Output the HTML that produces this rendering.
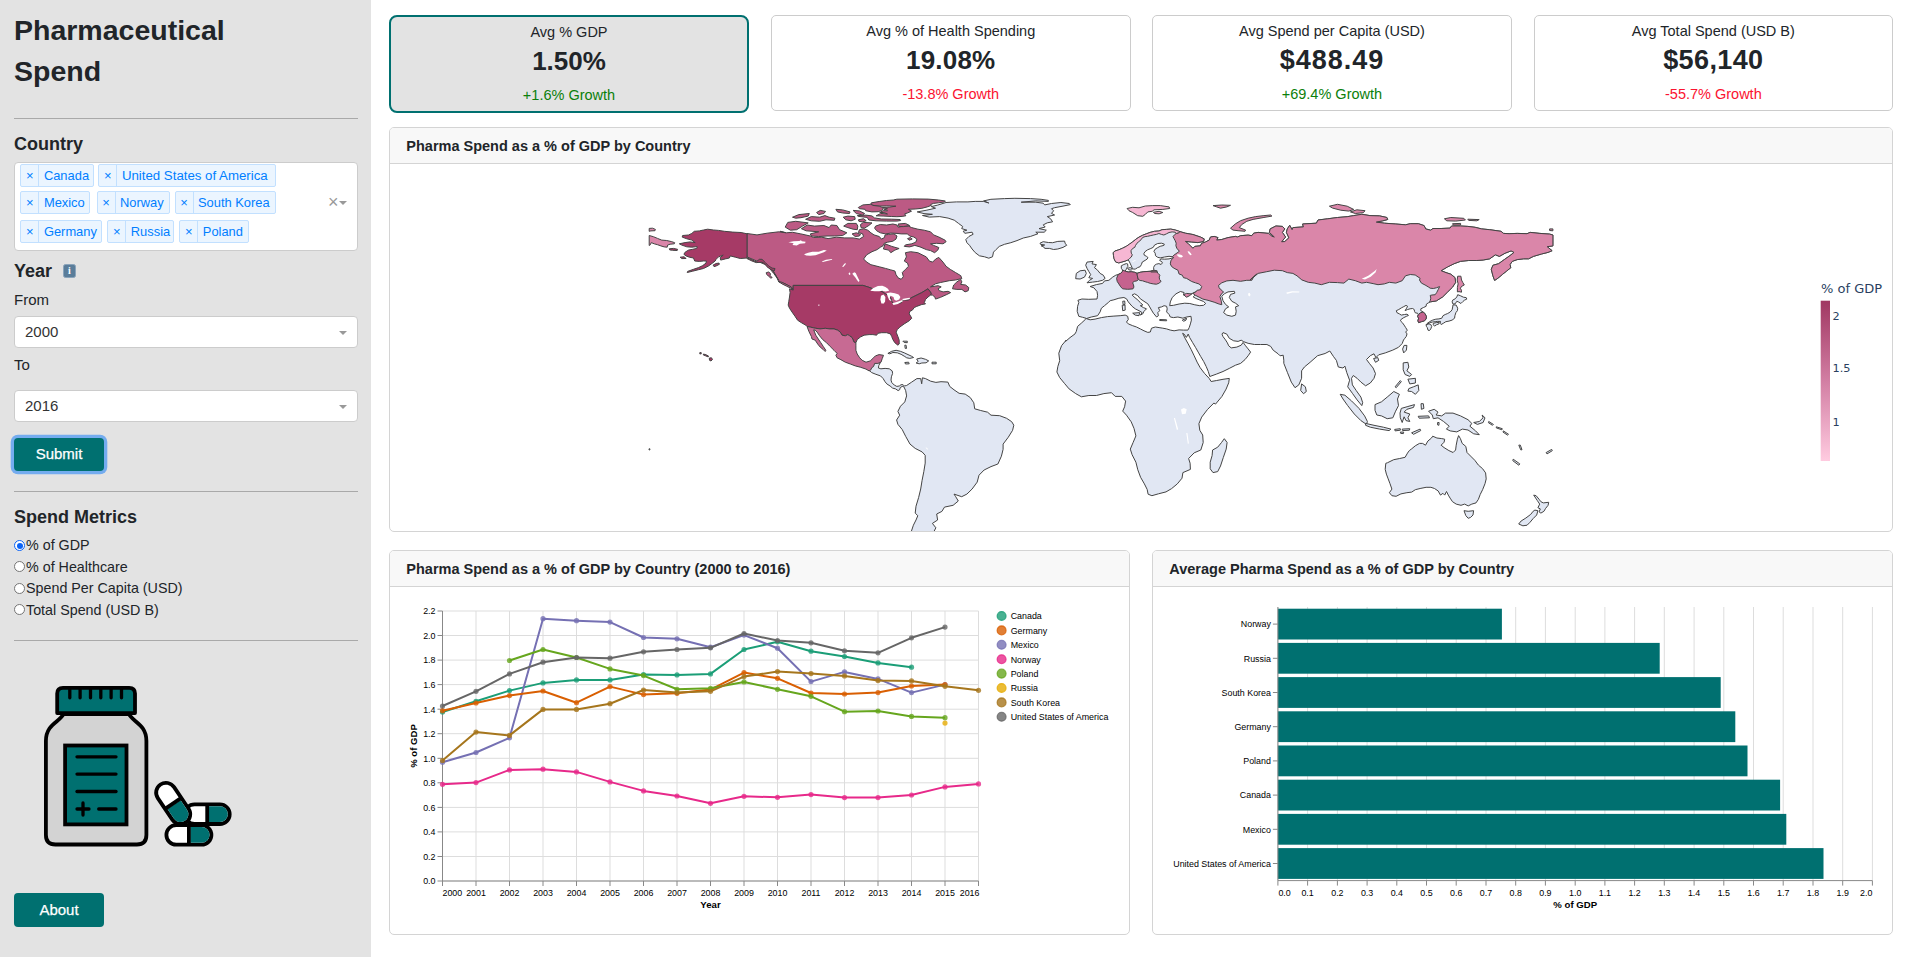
<!DOCTYPE html>
<html lang="en">
<head>
<meta charset="utf-8">
<title>Pharmaceutical Spend</title>
<style>
*{box-sizing:border-box}
html,body{margin:0;padding:0}
body{width:1918px;height:957px;overflow:hidden;background:#fff;font-family:"Liberation Sans",Arial,sans-serif;color:#212529;font-size:16px;position:relative}
.abs{position:absolute}
#sidebar{position:absolute;left:0;top:0;width:371px;height:957px;background:#e3e3e3}
#sidebar .t{position:absolute;left:14px;white-space:nowrap}
.hr{position:absolute;left:14px;width:344px;height:1px;background:#a9a9a9}
h1,h2,h3,h4,h5{margin:0}
.title{font-weight:700;font-size:28.5px;line-height:41px;color:#212529}
.lbl{font-weight:700;font-size:18px;color:#212529}
.box{position:absolute;left:14px;width:344px;background:#fff;border:1px solid #ccc;border-radius:4px}
.tag{position:absolute;height:23px;border:1px solid #c2e0ff;background:#ebf5ff;color:#007eff;border-radius:2px;font-size:12.9px;line-height:21px;white-space:nowrap}
.tag i{position:absolute;left:0;top:0;width:18px;height:21px;border-right:1px solid #c2e0ff;font-style:normal;text-align:center;font-size:13px}
.tag b{position:absolute;left:22.5px;top:0;font-weight:400}
.sel{font-size:15px;color:#333;line-height:29px;padding-left:10px}
.caret{position:absolute;width:0;height:0;border-left:4px solid transparent;border-right:4px solid transparent;border-top:4px solid #999}
.btn{position:absolute;background:#007070;color:#fff;-webkit-text-stroke:0.25px #fff;border-radius:4px;font-size:15px;text-align:center}
.radio{position:absolute;left:14px;width:11px;height:11px;border-radius:50%;border:1px solid #767676;background:#fff}
.radio.on{border:1px solid #0b63f6;background:#fff}
.radio.on::after{content:"";position:absolute;left:1.5px;top:1.5px;width:6px;height:6px;border-radius:50%;background:#0b63f6}
.rl{position:absolute;left:26px;font-size:14.3px;white-space:nowrap;color:#212529}
.kpi{position:absolute;top:15px;width:359.5px;height:96px;border:1px solid #ccc;border-radius:5px;background:#fff;text-align:center}
.kpi.on{width:360px;height:98px;border:2px solid #007070;border-radius:8px;background:#e3e3e3}
.kpi .a{position:absolute;left:0;right:0;top:5.5px;font-size:14.5px;line-height:18px}
.kpi .b{position:absolute;left:0;right:0;top:28px;font-size:26px;line-height:32px;font-weight:700}
.kpi .c{position:absolute;left:0;right:0;top:69px;font-size:14.5px;line-height:18px}
.kpi.on .a{top:5.5px}.kpi.on .b{top:28px}.kpi.on .c{top:69px}
.g{color:#0b800b}.r{color:#fb1330}
.card{position:absolute;border:1px solid #d4d4d4;border-radius:5px;background:#fff;overflow:hidden}
.card .hd{position:absolute;left:0;top:0;right:0;height:36px;background:#f8f8f8;border-bottom:1px solid #d4d4d4;font-weight:700;font-size:14.5px;line-height:37px;padding-left:16.3px;white-space:nowrap}
svg text{font-family:"Liberation Sans",Arial,sans-serif}
</style>
</head>
<body>
<div id="sidebar">
  <div class="t title" style="top:10px">Pharmaceutical<br>Spend</div>
  <div class="hr" style="top:118px"></div>
  <div class="t lbl" style="top:133.5px">Country</div>
  <div class="box" style="top:162px;height:89px">
    <div class="tag" style="left:5.4px;top:0.5px;width:73.4px"><i>×</i><b>Canada</b></div>
    <div class="tag" style="left:83.4px;top:0.5px;width:177.4px"><i>×</i><b style="font-size:13.25px">United States of America</b></div>
    <div class="tag" style="left:5.4px;top:28.3px;width:70.1px"><i>×</i><b>Mexico</b></div>
    <div class="tag" style="left:81.5px;top:28.3px;width:73.3px"><i>×</i><b>Norway</b></div>
    <div class="tag" style="left:159.5px;top:28.3px;width:101.3px"><i>×</i><b>South Korea</b></div>
    <div class="tag" style="left:5.4px;top:57px;width:81.2px"><i>×</i><b>Germany</b></div>
    <div class="tag" style="left:92.3px;top:57px;width:67.2px"><i>×</i><b>Russia</b></div>
    <div class="tag" style="left:164.3px;top:57px;width:69.3px"><i>×</i><b>Poland</b></div>
    <div class="abs" style="left:313px;top:29px;font-size:18px;color:#999;line-height:20px">×</div>
    <div class="caret" style="left:324px;top:38px"></div>
  </div>
  <div class="t lbl" style="top:260.5px">Year</div>
  <div class="abs" style="left:63px;top:263.5px;width:13px;height:14px;border-radius:2.5px;background:#5a7d9a;border:1px solid #8aa4bb;color:#fff;font-size:10px;line-height:12px;text-align:center;font-weight:700;font-family:'Liberation Serif',serif">i</div>
  <div class="t" style="top:291px;font-size:15px">From</div>
  <div class="box sel" style="top:316px;height:32px">2000<div class="caret" style="left:324px;top:14px"></div></div>
  <div class="t" style="top:356px;font-size:15px">To</div>
  <div class="box sel" style="top:390px;height:32px">2016<div class="caret" style="left:324px;top:14px"></div></div>
  <div class="btn" style="left:14px;top:437.5px;width:90px;height:33.5px;line-height:32px;box-shadow:0 0 0 3.3px #74acef">Submit</div>
  <div class="hr" style="top:491px"></div>
  <div class="t lbl" style="top:506.5px">Spend Metrics</div>
  <div class="radio on" style="top:540px"></div><div class="rl" style="top:537px">% of GDP</div>
  <div class="radio" style="top:561px"></div><div class="rl" style="top:559px">% of Healthcare</div>
  <div class="radio" style="top:583px"></div><div class="rl" style="top:580px">Spend Per Capita (USD)</div>
  <div class="radio" style="top:604px"></div><div class="rl" style="top:602px">Total Spend (USD B)</div>
  <div class="hr" style="top:640px"></div>
  <svg id="logo" class="abs" style="left:30px;top:670px" width="220" height="190" viewBox="30 670 220 190"><path d="M63.5,714 C60,722 45.9,724 45.9,741 V835 Q45.9,844.5 55.4,844.5 H136.9 Q146.4,844.5 146.4,835 V741 C146.4,724 132.5,722 129,714 Z" fill="#d3d3d3" stroke="#000" stroke-width="3.8" stroke-linejoin="round"/>
<path d="M57.2,713.1 V693.5 Q57.2,687.8 63,687.8 H129.2 Q135,687.8 135,693.5 V713.1 Z" fill="#007070" stroke="#000" stroke-width="3.8" stroke-linejoin="round"/>
<line x1="69.8" y1="689" x2="69.8" y2="697.8" stroke="#000" stroke-width="3.3" stroke-linecap="round"/>
<line x1="80.1" y1="689" x2="80.1" y2="697.8" stroke="#000" stroke-width="3.3" stroke-linecap="round"/>
<line x1="90.5" y1="689" x2="90.5" y2="697.8" stroke="#000" stroke-width="3.3" stroke-linecap="round"/>
<line x1="100.8" y1="689" x2="100.8" y2="697.8" stroke="#000" stroke-width="3.3" stroke-linecap="round"/>
<line x1="111.1" y1="689" x2="111.1" y2="697.8" stroke="#000" stroke-width="3.3" stroke-linecap="round"/>
<line x1="121.5" y1="689" x2="121.5" y2="697.8" stroke="#000" stroke-width="3.3" stroke-linecap="round"/>
<rect x="65.1" y="745.5" width="61.4" height="78.9" fill="#007070" stroke="#000" stroke-width="3.8"/>
<line x1="77" y1="756.8" x2="116" y2="756.8" stroke="#000" stroke-width="3.3" stroke-linecap="round"/>
<line x1="77" y1="774.1" x2="116" y2="774.1" stroke="#000" stroke-width="3.3" stroke-linecap="round"/>
<line x1="77" y1="791.5" x2="116" y2="791.5" stroke="#000" stroke-width="3.3" stroke-linecap="round"/>
<line x1="77" y1="809" x2="89" y2="809" stroke="#000" stroke-width="3.3" stroke-linecap="round"/>
<line x1="83" y1="803" x2="83" y2="815" stroke="#000" stroke-width="3.3" stroke-linecap="round"/>
<line x1="98.7" y1="809" x2="116" y2="809" stroke="#000" stroke-width="3.3" stroke-linecap="round"/>
<g transform="translate(207.2,814.2) rotate(0.0)"><rect x="-22.5" y="-9.8" width="45.0" height="19.6" rx="9.8" fill="#fff" stroke="#000" stroke-width="3.8"/><path d="M1.5,-7.9 H12.7 A7.9,7.9 0 0 1 12.7,7.9 H1.5 Z" fill="#007070"/><line x1="0" y1="-9.8" x2="0" y2="9.8" stroke="#000" stroke-width="3.8"/></g>
<g transform="translate(188.9,834.9) rotate(0.0)"><rect x="-22.5" y="-9.8" width="45.0" height="19.6" rx="9.8" fill="#fff" stroke="#000" stroke-width="3.8"/><path d="M1.5,-7.9 H12.7 A7.9,7.9 0 0 1 12.7,7.9 H1.5 Z" fill="#007070"/><line x1="0" y1="-9.8" x2="0" y2="9.8" stroke="#000" stroke-width="3.8"/></g>
<g transform="translate(173.2,803.4) rotate(56.1)"><rect x="-22.8" y="-9.8" width="45.6" height="19.6" rx="9.8" fill="#fff" stroke="#000" stroke-width="3.8"/><path d="M1.5,-7.9 H13.0 A7.9,7.9 0 0 1 13.0,7.9 H1.5 Z" fill="#007070"/><line x1="0" y1="-9.8" x2="0" y2="9.8" stroke="#000" stroke-width="3.8"/></g></svg>
  <div class="btn" style="left:14px;top:893px;width:90px;height:34px;line-height:34px">About</div>
</div>

<div class="kpi on" style="left:389px"><div class="a">Avg % GDP</div><div class="b">1.50%</div><div class="c g">+1.6% Growth</div></div>
<div class="kpi" style="left:771px"><div class="a">Avg % of Health Spending</div><div class="b" style="letter-spacing:0.2px">19.08%</div><div class="c r">-13.8% Growth</div></div>
<div class="kpi" style="left:1152.2px"><div class="a">Avg Spend per Capita (USD)</div><div class="b" style="font-size:27px;letter-spacing:1px">$488.49</div><div class="c g">+69.4% Growth</div></div>
<div class="kpi" style="left:1533.6px"><div class="a">Avg Total Spend (USD B)</div><div class="b" style="font-size:27px;letter-spacing:0.4px">$56,140</div><div class="c r">-55.7% Growth</div></div>

<div class="card" style="left:389px;top:127px;width:1504px;height:405px">
  <div class="hd">Pharma Spend as a % of GDP by Country</div>
  <svg id="map" class="abs" style="left:0;top:36px" width="1502" height="367" viewBox="390 164 1502 367"><g>
<path d="M1086.1,318.3 L1082.6,317.3 L1078.8,316.3 L1077.2,311.3 L1077.6,306.3 L1078.8,302.5 L1077.9,300.3 L1081.9,299.0 L1088.8,299.3 L1097.0,299.0 L1097.6,295.3 L1097.0,291.5 L1093.9,287.8 L1090.1,286.5 L1096.4,284.6 L1102.6,283.4 L1104.5,280.9 L1108.9,280.3 L1112.7,277.1 L1115.8,275.2 L1118.2,274.5 L1120.7,273.3 L1122.3,271.7 L1122.6,270.1 L1121.3,268.3 L1121.3,265.8 L1123.8,264.5 L1126.3,263.6 L1127.6,263.9 L1127.9,266.4 L1126.6,268.3 L1126.0,269.8 L1125.1,271.1 L1128.2,272.0 L1131.3,271.7 L1134.8,272.3 L1137.0,273.3 L1140.1,272.3 L1143.9,271.7 L1150.2,271.3 L1153.9,270.3 L1153.6,267.6 L1154.5,265.4 L1156.4,264.2 L1158.9,263.6 L1161.1,264.5 L1162.4,262.9 L1161.8,261.7 L1159.6,260.4 L1160.8,258.9 L1164.6,259.2 L1169.0,258.9 L1173.7,257.6 L1172.4,256.7 L1169.0,256.3 L1164.6,257.0 L1160.2,257.9 L1157.7,257.3 L1155.5,255.7 L1155.2,253.2 L1153.9,251.3 L1155.2,249.1 L1157.7,247.6 L1160.2,246.3 L1163.9,245.4 L1164.3,244.1 L1161.4,243.2 L1157.7,243.5 L1154.5,245.1 L1153.3,247.3 L1150.8,248.5 L1147.6,249.8 L1145.1,251.6 L1143.9,253.5 L1144.2,255.1 L1146.4,256.3 L1148.0,257.6 L1147.0,259.2 L1145.1,260.4 L1142.3,262.0 L1141.4,264.5 L1140.1,266.7 L1137.6,267.6 L1135.7,268.9 L1133.9,269.2 L1132.3,268.3 L1131.3,265.8 L1130.4,263.9 L1129.5,262.0 L1128.2,259.8 L1127.6,260.1 L1125.1,261.1 L1121.9,262.0 L1118.8,262.9 L1115.7,262.0 L1114.1,258.9 L1113.5,255.7 L1113.2,252.6 L1115.0,251.0 L1118.8,249.8 L1122.6,248.2 L1126.3,246.3 L1129.5,244.1 L1132.6,241.9 L1135.7,239.4 L1138.9,237.2 L1142.6,235.3 L1146.4,233.8 L1150.2,232.4 L1154.5,231.3 L1158.9,231.0 L1162.1,229.7 L1166.5,229.4 L1170.8,229.1 L1175.2,230.0 L1178.4,231.0 L1179.9,231.6 L1185.4,233.2 L1192.9,234.5 L1200.4,237.0 L1204.2,238.9 L1203.6,241.4 L1197.9,242.6 L1191.7,242.0 L1185.4,241.4 L1187.9,243.3 L1190.4,245.8 L1192.9,248.3 L1194.8,246.4 L1200.4,245.8 L1201.7,243.3 L1205.5,242.0 L1209.2,240.1 L1210.5,237.0 L1214.2,236.4 L1218.0,237.6 L1216.7,240.1 L1221.8,239.5 L1228.0,237.6 L1235.5,236.4 L1237.4,237.0 L1240.6,235.7 L1248.1,235.1 L1251.8,235.7 L1253.7,233.2 L1258.1,232.4 L1268.6,233.4 L1271.9,236.2 L1274.3,237.0 L1269.4,232.4 L1270.2,228.9 L1275.9,226.0 L1282.4,226.4 L1284.8,228.9 L1282.4,232.4 L1285.6,237.0 L1281.6,241.8 L1284.8,241.5 L1288.9,237.8 L1286.4,232.4 L1287.3,228.9 L1289.7,225.3 L1292.1,229.7 L1292.9,227.6 L1303.4,226.9 L1302.6,224.0 L1316.4,223.2 L1318.0,220.0 L1327.7,218.8 L1337.5,217.5 L1347.2,216.7 L1353.7,215.6 L1361.8,214.3 L1369.9,215.6 L1379.6,215.9 L1386.9,217.5 L1387.7,219.5 L1382.8,220.8 L1376.3,222.1 L1384.4,223.2 L1395.8,224.0 L1405.5,224.8 L1410.3,223.7 L1418.4,223.7 L1424.1,225.6 L1425.7,228.9 L1430.6,230.2 L1433.0,228.5 L1441.1,228.5 L1450.0,228.1 L1451.6,226.0 L1460.6,226.0 L1467.8,226.4 L1475.1,227.3 L1481.6,228.9 L1489.7,229.7 L1501.0,231.3 L1503.5,233.4 L1509.1,233.7 L1517.2,233.4 L1527.0,233.7 L1530.2,232.4 L1539.9,233.4 L1549.6,234.1 L1552.9,235.0 L1552.9,245.9 L1547.2,246.7 L1552.1,250.7 L1548.0,252.4 L1541.5,254.0 L1533.4,256.4 L1528.6,258.8 L1523.7,258.8 L1517.2,259.6 L1512.4,261.3 L1510.0,264.5 L1510.8,267.7 L1506.7,271.0 L1502.7,274.2 L1497.8,278.3 L1494.6,280.4 L1492.9,275.8 L1491.3,269.4 L1492.9,265.3 L1498.6,263.7 L1504.3,259.6 L1510.0,255.6 L1514.0,252.4 L1511.1,250.9 L1505.1,253.2 L1499.4,256.4 L1495.4,254.8 L1489.7,258.8 L1483.2,260.0 L1476.8,260.5 L1468.7,260.5 L1460.6,261.3 L1454.1,263.7 L1447.6,266.9 L1441.1,270.7 L1446.0,272.6 L1450.8,274.2 L1454.9,277.5 L1455.7,282.3 L1452.5,287.2 L1447.6,292.0 L1442.7,296.9 L1436.3,300.9 L1430.6,301.8 L1428.3,302.9 L1426.4,304.1 L1426.1,306.3 L1423.3,307.6 L1420.8,308.8 L1420.8,310.7 L1423.3,312.0 L1425.1,313.9 L1426.4,316.4 L1426.1,318.9 L1424.5,320.8 L1421.4,321.7 L1418.6,322.6 L1417.9,320.8 L1418.6,318.2 L1417.6,316.4 L1418.2,314.5 L1417.6,313.2 L1415.4,312.9 L1414.5,311.3 L1414.2,309.5 L1412.6,308.5 L1410.1,308.8 L1407.6,309.5 L1405.1,310.6 L1406.6,308.2 L1407.6,306.3 L1406.0,305.4 L1403.8,306.6 L1401.3,307.9 L1398.8,309.5 L1396.3,310.7 L1396.9,312.6 L1399.4,313.9 L1401.3,315.1 L1404.5,314.5 L1407.0,314.2 L1408.5,315.4 L1406.3,316.4 L1403.8,317.6 L1401.3,319.2 L1400.4,320.8 L1402.3,322.6 L1404.1,325.1 L1405.7,327.6 L1407.3,330.2 L1405.7,332.0 L1407.0,333.9 L1406.3,336.4 L1404.8,338.3 L1403.5,340.0 L1402.2,343.5 L1398.5,347.3 L1392.8,350.1 L1385.3,352.9 L1378.7,354.8 L1375.9,357.6 L1374.0,353.8 L1370.3,355.7 L1366.5,359.5 L1369.3,363.3 L1373.1,368.0 L1375.5,373.6 L1374.0,378.3 L1370.3,383.0 L1365.6,385.8 L1360.9,382.1 L1357.1,378.3 L1353.3,375.5 L1351.5,378.3 L1352.4,384.9 L1356.2,390.5 L1360.9,397.1 L1362.7,402.7 L1361.8,405.6 L1357.1,399.9 L1352.4,393.3 L1347.7,386.8 L1349.6,380.2 L1346.8,372.7 L1344.9,366.1 L1343.0,368.0 L1338.3,367.0 L1336.4,360.4 L1333.6,356.7 L1329.8,351.0 L1325.1,353.5 L1317.6,355.7 L1310.1,362.3 L1304.4,367.0 L1301.6,370.8 L1301.6,378.3 L1298.8,384.9 L1295.0,387.7 L1291.3,382.1 L1287.5,372.7 L1283.8,363.3 L1283.8,360.2 L1283.2,355.2 L1280.1,355.8 L1278.2,353.9 L1273.2,350.2 L1270.7,346.4 L1266.9,344.5 L1260.6,344.5 L1254.4,344.5 L1248.1,343.3 L1243.7,341.7 L1241.2,340.2 L1238.1,341.4 L1233.7,340.8 L1229.3,338.3 L1226.8,334.1 L1223.0,332.6 L1222.0,334.1 L1223.0,336.6 L1225.5,339.9 L1227.4,342.9 L1228.7,345.8 L1231.2,347.9 L1236.8,347.1 L1241.2,345.2 L1243.1,342.4 L1245.6,345.8 L1248.1,348.9 L1250.6,352.1 L1248.1,355.8 L1245.0,359.6 L1240.6,363.4 L1235.5,365.2 L1229.3,368.4 L1223.0,371.5 L1216.7,374.0 L1209.8,376.5 L1208.3,371.5 L1206.2,366.5 L1203.7,361.5 L1200.7,356.5 L1198.2,352.1 L1195.7,347.7 L1192.7,342.7 L1189.7,337.6 L1188.2,334.1 L1186.4,337.4 L1184.1,334.1 L1182.6,333.3 L1185.4,338.9 L1188.2,343.9 L1191.2,349.6 L1194.2,355.8 L1197.1,362.1 L1200.2,367.7 L1204.5,373.4 L1209.2,378.4 L1211.1,381.5 L1216.7,380.5 L1223.0,379.3 L1229.3,378.4 L1228.7,382.8 L1226.1,389.1 L1221.8,396.6 L1215.5,404.1 L1213.9,403.0 L1207.4,409.6 L1201.7,417.1 L1198.9,423.7 L1199.8,430.3 L1202.7,435.0 L1203.2,442.5 L1200.8,450.0 L1194.2,452.8 L1188.6,458.5 L1190.1,463.2 L1190.4,469.4 L1182.9,472.6 L1182.0,478.2 L1177.3,483.9 L1171.6,488.6 L1166.0,491.9 L1158.5,493.8 L1151.9,495.7 L1148.1,494.2 L1147.2,489.5 L1144.4,483.9 L1140.6,477.3 L1137.8,469.8 L1135.9,462.2 L1132.1,454.7 L1130.3,449.1 L1133.1,442.5 L1135.9,435.9 L1134.0,428.4 L1131.2,421.8 L1126.5,415.2 L1122.7,411.1 L1124.6,406.8 L1125.6,401.1 L1121.8,396.4 L1115.2,396.4 L1111.5,392.7 L1103.9,393.6 L1096.4,395.5 L1088.9,395.5 L1081.4,396.8 L1075.7,393.6 L1069.1,388.9 L1064.4,383.3 L1059.7,377.6 L1056.9,372.0 L1057.9,366.3 L1059.7,360.7 L1058.8,353.2 L1061.6,345.6 L1066.3,340.0 L1065.6,341.4 L1070.0,337.6 L1075.0,333.9 L1076.3,331.4 L1077.6,326.4 L1081.3,323.2 L1085.7,319.1 Z" fill="#e1e7f3" stroke="#444" stroke-width="1.0" stroke-linejoin="round"/>
<path d="M1086.3,318.6 L1091.3,317.0 L1097.6,315.7 L1100.1,311.9 L1101.4,308.2 L1104.5,305.7 L1108.3,302.5 L1110.2,300.7 L1113.9,299.8 L1118.9,298.2 L1123.9,297.5 L1126.5,298.8 L1128.3,301.9 L1132.1,306.3 L1135.2,308.8 L1139.0,310.7 L1142.1,312.6 L1140.3,315.1 L1142.8,313.8 L1144.0,311.3 L1146.5,308.8 L1143.4,307.6 L1140.3,305.7 L1142.8,305.0 L1140.3,302.5 L1137.1,299.4 L1134.0,296.9 L1132.1,295.0 L1134.6,293.8 L1137.7,295.6 L1140.3,298.8 L1144.0,301.3 L1147.8,303.8 L1149.7,306.9 L1151.5,310.1 L1153.4,313.2 L1156.6,317.0 L1158.4,315.7 L1157.8,312.6 L1159.7,310.7 L1158.4,307.6 L1161.6,306.9 L1164.1,305.7 L1166.6,306.3 L1167.2,308.8 L1166.6,311.9 L1169.1,314.5 L1170.3,317.0 L1173.5,317.6 L1177.9,317.0 L1182.9,318.2 L1186.6,317.0 L1191.0,316.3 L1191.4,320.1 L1190.4,323.9 L1189.2,327.6 L1187.9,330.1 L1183.5,330.1 L1179.1,329.9 L1174.1,330.8 L1170.3,330.1 L1166.6,328.9 L1162.8,328.2 L1159.1,327.6 L1155.3,327.0 L1151.5,328.2 L1150.3,332.0 L1147.8,332.4 L1144.0,330.8 L1140.3,328.9 L1136.5,327.0 L1132.7,325.7 L1128.3,323.9 L1126.5,322.0 L1128.3,319.5 L1127.7,316.3 L1125.2,315.1 L1120.2,315.7 L1113.9,316.1 L1107.6,316.6 L1101.4,317.6 L1095.1,319.1 L1090.1,319.8 Z" fill="#ffffff" stroke="#444" stroke-width="1.0" stroke-linejoin="round"/>
<path d="M1169.7,305.7 L1170.3,301.9 L1172.2,297.5 L1176.0,293.8 L1180.4,291.5 L1184.1,292.5 L1183.5,295.0 L1186.6,296.5 L1190.4,294.4 L1194.2,292.5 L1197.9,290.6 L1199.8,291.3 L1197.9,293.1 L1194.8,295.3 L1193.2,296.9 L1196.1,298.5 L1199.8,300.0 L1203.6,301.5 L1205.7,303.5 L1203.6,305.3 L1199.8,305.7 L1194.8,304.8 L1189.8,303.5 L1184.8,303.2 L1179.1,304.0 L1173.5,305.3 Z" fill="#ffffff" stroke="#444" stroke-width="1.0" stroke-linejoin="round"/>
<path d="M1221.8,296.3 L1224.3,293.8 L1228.0,291.9 L1234.3,291.3 L1234.9,293.1 L1230.5,294.4 L1229.3,297.5 L1231.8,301.3 L1235.5,303.2 L1238.7,305.7 L1235.5,306.9 L1236.2,311.3 L1235.5,315.1 L1231.8,316.3 L1226.8,315.1 L1223.6,312.6 L1225.5,308.8 L1228.7,306.9 L1225.5,304.4 L1223.0,300.7 Z" fill="#ffffff" stroke="#444" stroke-width="1.0" stroke-linejoin="round"/>
<path d="M1122.7,301.3 L1124.7,301.0 L1125.0,304.5 L1123.2,304.8 Z" fill="#e1e7f3" stroke="#444" stroke-width="1.0" stroke-linejoin="round"/>
<path d="M1122.2,305.3 L1125.0,305.0 L1125.2,310.1 L1122.7,310.7 Z" fill="#e1e7f3" stroke="#444" stroke-width="1.0" stroke-linejoin="round"/>
<path d="M1132.7,313.2 L1139.6,312.6 L1139.0,315.7 L1135.2,315.1 Z" fill="#e1e7f3" stroke="#444" stroke-width="1.0" stroke-linejoin="round"/>
<path d="M1159.7,319.5 L1166.6,319.8 L1166.6,320.8 L1159.7,320.5 Z" fill="#e1e7f3" stroke="#444" stroke-width="1.0" stroke-linejoin="round"/>
<path d="M1182.3,320.1 L1186.6,318.2 L1186.0,320.1 L1183.5,321.3 Z" fill="#e1e7f3" stroke="#444" stroke-width="1.0" stroke-linejoin="round"/>
<path d="M1127.6,268.3 L1130.1,267.6 L1132.6,268.9 L1131.3,270.1 L1128.8,269.8 Z" fill="#e1e7f3" stroke="#444" stroke-width="1.0" stroke-linejoin="round"/>
<path d="M1179.9,231.6 L1185.4,233.2 L1192.9,234.5 L1200.4,237.0 L1204.2,238.9 L1203.6,241.4 L1197.9,242.6 L1191.7,242.0 L1185.4,241.4 L1187.9,243.3 L1190.4,245.8 L1192.9,248.3 L1194.8,246.4 L1200.4,245.8 L1201.7,243.3 L1205.5,242.0 L1209.2,240.1 L1210.5,237.0 L1214.2,236.4 L1218.0,237.6 L1216.7,240.1 L1221.8,239.5 L1228.0,237.6 L1235.5,236.4 L1237.4,237.0 L1240.6,235.7 L1248.1,235.1 L1251.8,235.7 L1253.7,233.2 L1258.1,232.4 L1268.6,233.4 L1271.9,236.2 L1274.3,237.0 L1269.4,232.4 L1270.2,228.9 L1275.9,226.0 L1282.4,226.4 L1284.8,228.9 L1282.4,232.4 L1285.6,237.0 L1281.6,241.8 L1284.8,241.5 L1288.9,237.8 L1286.4,232.4 L1287.3,228.9 L1289.7,225.3 L1292.1,229.7 L1292.9,227.6 L1303.4,226.9 L1302.6,224.0 L1316.4,223.2 L1318.0,220.0 L1327.7,218.8 L1337.5,217.5 L1347.2,216.7 L1353.7,215.6 L1361.8,214.3 L1369.9,215.6 L1379.6,215.9 L1386.9,217.5 L1387.7,219.5 L1382.8,220.8 L1376.3,222.1 L1384.4,223.2 L1395.8,224.0 L1405.5,224.8 L1410.3,223.7 L1418.4,223.7 L1424.1,225.6 L1425.7,228.9 L1430.6,230.2 L1433.0,228.5 L1441.1,228.5 L1450.0,228.1 L1451.6,226.0 L1460.6,226.0 L1467.8,226.4 L1475.1,227.3 L1481.6,228.9 L1489.7,229.7 L1501.0,231.3 L1503.5,233.4 L1509.1,233.7 L1517.2,233.4 L1527.0,233.7 L1530.2,232.4 L1539.9,233.4 L1549.6,234.1 L1552.9,235.0 L1552.9,245.9 L1547.2,246.7 L1552.1,250.7 L1548.0,252.4 L1541.5,254.0 L1533.4,256.4 L1528.6,258.8 L1523.7,258.8 L1517.2,259.6 L1512.4,261.3 L1510.0,264.5 L1510.8,267.7 L1506.7,271.0 L1502.7,274.2 L1497.8,278.3 L1494.6,280.4 L1492.9,275.8 L1491.3,269.4 L1492.9,265.3 L1498.6,263.7 L1504.3,259.6 L1510.0,255.6 L1514.0,252.4 L1511.1,250.9 L1505.1,253.2 L1499.4,256.4 L1495.4,254.8 L1489.7,258.8 L1483.2,260.0 L1476.8,260.5 L1468.7,260.5 L1460.6,261.3 L1454.1,263.7 L1447.6,266.9 L1441.1,270.7 L1446.0,272.6 L1450.8,274.2 L1454.9,277.5 L1455.7,282.3 L1452.5,287.2 L1447.6,292.0 L1442.7,296.9 L1436.3,300.9 L1430.6,301.8 L1429.5,301.6 L1430.2,300.7 L1430.8,298.2 L1430.2,295.4 L1432.0,295.0 L1435.2,294.7 L1436.7,292.5 L1438.3,289.4 L1439.6,286.6 L1436.4,287.8 L1433.3,288.5 L1430.2,288.2 L1428.3,286.9 L1425.1,285.0 L1421.4,283.1 L1419.5,280.0 L1420.1,278.3 L1415.2,275.0 L1410.3,274.5 L1405.5,275.8 L1402.2,280.7 L1395.8,283.1 L1389.3,282.3 L1384.4,283.9 L1378.0,284.7 L1373.1,283.6 L1366.6,282.3 L1361.8,283.1 L1355.3,280.7 L1348.8,279.1 L1343.9,283.1 L1337.5,282.6 L1329.4,282.3 L1321.3,284.7 L1314.8,283.1 L1308.3,282.3 L1301.8,279.9 L1297.0,275.8 L1292.9,273.4 L1287.3,272.6 L1282.4,270.7 L1274.3,270.2 L1266.2,271.8 L1258.1,273.4 L1253.2,277.5 L1250.0,279.9 L1256.9,274.0 L1253.7,276.7 L1251.8,280.3 L1246.8,280.3 L1240.6,281.3 L1233.0,280.3 L1226.8,280.9 L1221.8,282.8 L1218.6,285.3 L1219.0,287.8 L1221.8,290.3 L1223.6,292.2 L1221.8,293.4 L1219.9,296.6 L1221.1,300.3 L1221.8,304.7 L1219.2,304.1 L1214.2,302.2 L1208.0,300.3 L1202.9,299.1 L1199.2,297.2 L1195.4,295.3 L1192.9,293.4 L1195.4,292.2 L1197.3,290.3 L1200.4,289.7 L1201.7,286.5 L1199.2,284.0 L1195.4,282.8 L1191.7,281.5 L1186.6,278.4 L1183.5,277.7 L1182.3,275.2 L1179.1,274.0 L1177.9,270.2 L1174.1,268.3 L1171.6,266.5 L1170.3,263.9 L1171.0,260.2 L1173.7,257.6 L1172.4,256.7 L1174.0,255.1 L1177.1,252.9 L1179.3,251.3 L1178.4,250.1 L1176.8,248.2 L1175.9,245.7 L1176.2,243.2 L1175.2,240.7 L1174.0,238.5 L1173.0,236.6 L1174.9,234.4 L1176.2,233.5 L1178.4,232.8 Z" fill="#da86a9" stroke="#444" stroke-width="1.0" stroke-linejoin="round"/>
<path d="M1183.5,294.7 L1186.6,293.4 L1191.7,294.0 L1189.2,295.9 L1186.6,297.2 Z" fill="#da86a9" stroke="#444" stroke-width="1.0" stroke-linejoin="round"/>
<path d="M1150.2,271.3 L1153.9,270.3 L1157.1,270.8 L1157.1,272.0 L1150.8,272.0 Z" fill="#da86a9" stroke="#444" stroke-width="1.0" stroke-linejoin="round"/>
<path d="M1230.5,228.2 L1235.5,223.8 L1240.6,220.7 L1248.1,218.2 L1255.6,216.6 L1263.1,215.7 L1270.7,215.0 L1271.9,216.1 L1263.1,217.6 L1253.1,219.4 L1246.8,221.3 L1241.8,224.5 L1239.3,227.6 L1245.6,230.1 L1245.0,231.3 L1238.1,230.7 L1233.0,230.1 Z" fill="#da86a9" stroke="#444" stroke-width="1.0" stroke-linejoin="round"/>
<path d="M1213.0,205.6 L1221.8,205.0 L1230.5,205.3 L1226.8,206.9 L1220.5,208.2 L1216.7,206.9 Z" fill="#da86a9" stroke="#444" stroke-width="1.0" stroke-linejoin="round"/>
<path d="M1457.7,276.2 L1460.9,276.2 L1461.5,280.0 L1462.8,282.5 L1464.3,285.0 L1462.1,286.0 L1460.3,288.2 L1461.5,290.3 L1461.5,292.2 L1459.0,291.6 L1457.4,291.9 L1457.4,287.5 L1458.1,283.8 L1457.2,280.0 Z" fill="#da86a9" stroke="#444" stroke-width="1.0" stroke-linejoin="round"/>
<path d="M1329.4,206.2 L1337.5,204.3 L1347.2,206.2 L1353.7,209.4 L1348.8,211.1 L1340.7,210.2 L1332.6,208.1 Z" fill="#da86a9" stroke="#444" stroke-width="1.0" stroke-linejoin="round"/>
<path d="M1350.4,211.9 L1356.9,209.8 L1365.0,210.7 L1363.4,212.7 L1355.3,213.5 Z" fill="#da86a9" stroke="#444" stroke-width="1.0" stroke-linejoin="round"/>
<path d="M1444.4,218.8 L1450.8,217.5 L1463.8,218.3 L1465.4,220.0 L1455.7,221.1 L1446.8,220.8 Z" fill="#da86a9" stroke="#444" stroke-width="1.0" stroke-linejoin="round"/>
<path d="M1467.8,219.2 L1479.2,219.6 L1476.8,220.8 L1468.7,220.4 Z" fill="#da86a9" stroke="#444" stroke-width="1.0" stroke-linejoin="round"/>
<path d="M1452.5,223.7 L1460.6,223.4 L1460.6,225.0 L1453.3,225.0 Z" fill="#da86a9" stroke="#444" stroke-width="1.0" stroke-linejoin="round"/>
<path d="M1549.6,228.9 L1552.9,228.9 L1552.9,230.8 L1549.6,230.5 Z" fill="#da86a9" stroke="#444" stroke-width="1.0" stroke-linejoin="round"/>
<path d="M649.2,235.5 L653.4,236.7 L657.5,238.4 L661.7,240.1 L666.7,240.5 L671.8,241.7 L674.7,242.7 L674.3,243.8 L670.1,244.2 L667.6,245.1 L667.2,247.2 L664.2,246.9 L660.9,245.9 L657.5,244.7 L654.2,243.8 L651.3,242.6 L650.4,244.7 L649.2,245.5 Z" fill="#da86a9" stroke="#444" stroke-width="1.0" stroke-linejoin="round"/>
<path d="M649.2,228.4 L652.5,228.2 L655.4,229.4 L655.0,230.7 L650.9,230.9 L649.2,231.3 Z" fill="#da86a9" stroke="#444" stroke-width="1.0" stroke-linejoin="round"/>
<path d="M1127.6,260.1 L1125.1,261.1 L1121.9,262.0 L1118.8,262.9 L1115.7,262.0 L1114.1,258.9 L1113.5,255.7 L1113.2,252.6 L1115.0,251.0 L1118.8,249.8 L1122.6,248.2 L1126.3,246.3 L1129.5,244.1 L1132.6,241.9 L1135.7,239.4 L1138.9,237.2 L1142.6,235.3 L1146.4,233.8 L1150.2,232.4 L1154.5,231.3 L1158.9,231.0 L1162.1,229.7 L1166.5,229.4 L1170.8,229.1 L1175.2,230.0 L1178.4,231.0 L1179.9,231.6 L1178.4,232.8 L1176.2,233.5 L1175.2,232.2 L1172.1,231.9 L1169.0,232.5 L1166.5,233.8 L1163.9,235.0 L1161.4,234.4 L1158.9,233.5 L1156.4,234.4 L1153.3,235.0 L1150.2,235.7 L1147.6,236.3 L1145.1,236.6 L1142.6,237.5 L1141.1,239.7 L1138.9,241.6 L1137.0,243.2 L1135.4,245.7 L1134.8,247.3 L1132.6,248.5 L1131.0,250.7 L1131.3,253.2 L1132.3,254.8 L1131.3,257.0 L1129.5,258.5 L1128.2,259.8 Z" fill="#f6b7d3" stroke="#444" stroke-width="1.0" stroke-linejoin="round"/>
<path d="M1127.1,208.5 L1132.7,207.3 L1139.0,207.8 L1145.3,206.0 L1152.8,205.6 L1160.3,205.6 L1169.1,206.9 L1169.7,208.5 L1162.8,209.4 L1154.0,209.8 L1152.2,211.3 L1147.8,211.9 L1145.3,214.4 L1142.8,216.3 L1137.7,215.7 L1132.7,212.5 L1129.0,210.7 Z" fill="#f6b7d3" stroke="#444" stroke-width="1.0" stroke-linejoin="round"/>
<path d="M1153.4,212.3 L1159.1,211.3 L1162.8,212.5 L1159.1,213.8 L1154.7,213.5 Z" fill="#f6b7d3" stroke="#444" stroke-width="1.0" stroke-linejoin="round"/>
<path d="M1118.2,274.5 L1120.7,273.3 L1122.3,271.7 L1122.6,270.1 L1125.1,271.1 L1128.2,272.0 L1131.3,271.7 L1134.8,272.3 L1137.0,273.4 L1137.3,275.2 L1137.6,277.0 L1138.4,279.5 L1137.0,280.8 L1134.2,281.4 L1132.6,282.7 L1133.5,284.9 L1133.9,287.1 L1132.9,288.9 L1127.6,289.3 L1122.6,288.8 L1120.7,286.8 L1118.8,283.9 L1117.2,281.4 L1116.6,278.3 Z" fill="#c5628e" stroke="#444" stroke-width="1.0" stroke-linejoin="round"/>
<path d="M1137.0,273.4 L1140.1,272.3 L1143.9,271.7 L1150.2,271.3 L1150.8,272.0 L1157.1,272.0 L1158.3,273.6 L1159.9,275.2 L1159.2,277.0 L1159.6,279.5 L1161.1,281.4 L1158.9,283.3 L1156.4,284.2 L1153.3,283.9 L1150.2,283.3 L1147.6,282.4 L1145.1,281.7 L1142.6,280.8 L1140.1,280.5 L1138.4,279.5 L1137.6,277.0 L1137.3,275.2 Z" fill="#d880a7" stroke="#444" stroke-width="1.0" stroke-linejoin="round"/>
<path d="M1420.1,312.9 L1423.3,312.0 L1425.1,313.9 L1426.4,316.4 L1426.1,318.9 L1424.5,320.8 L1421.4,321.7 L1418.6,322.6 L1417.9,320.8 L1418.6,318.2 L1417.6,316.4 L1418.9,314.2 Z" fill="#c5628e" stroke="#444" stroke-width="1.0" stroke-linejoin="round"/>
<path d="M1087.0,262.1 L1093.2,261.4 L1092.0,263.9 L1096.4,264.6 L1094.5,267.7 L1097.6,270.2 L1100.1,273.4 L1103.3,275.2 L1105.1,278.4 L1102.6,280.3 L1097.6,281.5 L1092.6,282.1 L1087.0,282.8 L1089.5,280.3 L1092.6,278.4 L1088.8,277.7 L1090.7,274.6 L1088.8,271.5 L1087.0,268.3 L1085.7,265.2 Z" fill="#e1e7f3" stroke="#444" stroke-width="1.0" stroke-linejoin="round"/>
<path d="M1076.3,273.4 L1080.1,270.8 L1085.1,270.2 L1086.3,273.4 L1084.5,277.1 L1080.1,279.0 L1075.7,278.7 Z" fill="#e1e7f3" stroke="#444" stroke-width="1.0" stroke-linejoin="round"/>
<path d="M1040.0,243.2 L1043.2,241.7 L1048.4,242.5 L1052.6,242.7 L1057.8,241.4 L1064.6,241.1 L1065.1,243.2 L1066.7,245.3 L1063.0,247.4 L1057.8,249.0 L1053.6,249.5 L1049.4,248.4 L1044.7,248.4 L1043.7,246.9 L1041.1,245.8 L1044.7,245.0 L1040.5,244.3 Z" fill="#e1e7f3" stroke="#444" stroke-width="1.0" stroke-linejoin="round"/>
<path d="M917.2,211.9 L926.1,210.3 L935.5,208.2 L931.3,206.6 L937.6,205.1 L946.0,202.5 L956.4,201.9 L967.9,201.9 L975.2,201.4 L983.6,201.4 L988.8,203.0 L983.6,200.9 L990.9,199.3 L1004.5,198.6 L1014.9,198.3 L1030.6,198.6 L1041.1,199.3 L1048.4,200.4 L1048.4,201.4 L1035.8,200.9 L1021.2,202.2 L1035.8,202.2 L1043.2,203.2 L1044.7,204.9 L1051.5,203.5 L1060.9,202.5 L1069.3,203.5 L1070.3,204.6 L1063.0,206.1 L1054.6,207.7 L1051.5,208.7 L1053.6,210.8 L1051.5,213.4 L1054.6,215.0 L1047.3,216.6 L1050.5,218.7 L1052.6,221.8 L1047.3,222.8 L1043.2,224.9 L1045.2,227.0 L1039.0,228.6 L1046.3,230.2 L1044.2,232.2 L1035.8,232.2 L1037.9,233.8 L1030.6,236.4 L1023.3,238.0 L1017.0,240.6 L1010.8,242.7 L1004.5,244.3 L999.3,246.4 L996.1,249.5 L993.5,252.1 L992.5,256.8 L988.8,258.2 L984.6,256.8 L979.4,255.8 L975.2,252.6 L972.1,249.0 L969.5,245.3 L966.9,242.7 L965.8,239.6 L969.0,236.4 L973.1,234.3 L972.1,232.2 L964.8,233.3 L963.2,231.2 L966.9,230.2 L961.7,228.6 L962.7,226.5 L958.5,223.4 L954.3,220.2 L948.1,218.1 L939.7,216.6 L929.3,217.1 L922.5,215.5 L932.4,214.3 L924.0,213.6 Z" fill="#e1e7f3" stroke="#444" stroke-width="1.0" stroke-linejoin="round"/>
<path d="M1457.7,294.7 L1460.3,295.7 L1463.4,297.2 L1466.2,297.6 L1466.8,299.1 L1464.6,300.1 L1462.8,301.6 L1460.9,303.5 L1458.4,301.9 L1456.8,301.3 L1455.2,303.8 L1453.0,304.1 L1452.1,301.9 L1452.7,300.1 L1455.2,298.8 L1456.8,296.9 Z" fill="#e1e7f3" stroke="#444" stroke-width="1.0" stroke-linejoin="round"/>
<path d="M1453.0,304.8 L1456.2,305.1 L1457.7,308.2 L1457.4,310.7 L1455.9,312.6 L1454.9,315.7 L1454.6,318.2 L1452.1,320.1 L1449.0,321.1 L1445.8,321.7 L1443.3,323.3 L1441.1,324.5 L1440.2,323.3 L1440.5,321.4 L1437.7,321.4 L1435.2,321.7 L1432.7,322.0 L1430.2,322.6 L1427.6,323.9 L1426.1,324.8 L1427.0,323.6 L1429.5,321.7 L1432.7,320.1 L1435.8,319.2 L1438.9,318.9 L1441.8,318.2 L1443.0,315.7 L1445.2,314.5 L1447.7,313.5 L1450.2,312.0 L1452.1,309.8 L1452.7,307.0 Z" fill="#e1e7f3" stroke="#444" stroke-width="1.0" stroke-linejoin="round"/>
<path d="M1426.1,324.8 L1428.9,323.9 L1430.8,324.5 L1431.7,326.4 L1430.8,328.9 L1429.5,330.5 L1428.0,330.2 L1427.3,327.6 L1426.4,326.4 Z" fill="#e1e7f3" stroke="#444" stroke-width="1.0" stroke-linejoin="round"/>
<path d="M1433.3,323.3 L1436.4,322.6 L1439.2,322.3 L1438.9,323.9 L1436.4,324.8 L1434.5,326.1 L1433.3,324.8 Z" fill="#e1e7f3" stroke="#444" stroke-width="1.0" stroke-linejoin="round"/>
<path d="M1373.6,358.5 L1377.8,357.6 L1378.7,360.4 L1375.5,362.3 Z" fill="#e1e7f3" stroke="#444" stroke-width="1.0" stroke-linejoin="round"/>
<path d="M1404.1,345.4 L1406.9,345.4 L1406.4,350.1 L1403.7,352.9 L1402.6,349.1 Z" fill="#e1e7f3" stroke="#444" stroke-width="1.0" stroke-linejoin="round"/>
<path d="M1301.6,383.9 L1305.4,386.8 L1306.3,391.5 L1303.5,393.7 L1300.7,390.5 Z" fill="#e1e7f3" stroke="#444" stroke-width="1.0" stroke-linejoin="round"/>
<path d="M1340.2,394.3 L1344.9,395.2 L1351.5,400.9 L1359.0,408.4 L1364.6,415.9 L1367.4,421.5 L1366.5,424.4 L1360.9,420.6 L1354.3,414.0 L1347.7,405.6 L1343.0,399.0 Z" fill="#e1e7f3" stroke="#444" stroke-width="1.0" stroke-linejoin="round"/>
<path d="M1365.6,423.4 L1374.0,425.3 L1383.4,427.2 L1390.9,429.1 L1389.1,430.6 L1379.7,429.1 L1370.3,427.2 L1365.6,425.3 Z" fill="#e1e7f3" stroke="#444" stroke-width="1.0" stroke-linejoin="round"/>
<path d="M1394.7,429.4 L1400.3,428.7 L1400.3,430.2 L1395.1,430.9 Z" fill="#e1e7f3" stroke="#444" stroke-width="1.0" stroke-linejoin="round"/>
<path d="M1402.2,429.1 L1409.8,428.7 L1409.4,430.2 L1402.6,430.6 Z" fill="#e1e7f3" stroke="#444" stroke-width="1.0" stroke-linejoin="round"/>
<path d="M1400.3,432.1 L1403.7,432.1 L1403.4,433.6 L1400.7,433.4 Z" fill="#e1e7f3" stroke="#444" stroke-width="1.0" stroke-linejoin="round"/>
<path d="M1411.6,432.8 L1420.1,429.1 L1420.7,430.6 L1413.5,434.3 Z" fill="#e1e7f3" stroke="#444" stroke-width="1.0" stroke-linejoin="round"/>
<path d="M1375.0,404.6 L1381.5,401.8 L1387.2,397.1 L1393.8,391.5 L1399.4,394.3 L1397.5,399.0 L1398.5,405.6 L1395.6,411.2 L1392.8,417.8 L1387.2,418.7 L1381.5,415.9 L1376.8,415.0 L1375.0,410.3 Z" fill="#e1e7f3" stroke="#444" stroke-width="1.0" stroke-linejoin="round"/>
<path d="M1401.3,408.4 L1407.9,406.5 L1414.5,404.6 L1413.5,407.4 L1406.9,409.3 L1404.1,412.1 L1409.8,414.0 L1407.9,417.8 L1409.8,421.5 L1406.0,420.6 L1404.1,416.8 L1402.2,422.5 L1400.3,417.8 L1400.0,413.1 Z" fill="#e1e7f3" stroke="#444" stroke-width="1.0" stroke-linejoin="round"/>
<path d="M1403.2,362.9 L1407.9,362.3 L1408.8,367.0 L1406.9,370.8 L1411.6,374.5 L1409.8,376.4 L1405.1,374.5 L1403.2,369.8 Z" fill="#e1e7f3" stroke="#444" stroke-width="1.0" stroke-linejoin="round"/>
<path d="M1407.9,379.2 L1415.4,378.3 L1415.4,383.0 L1409.8,383.9 Z" fill="#e1e7f3" stroke="#444" stroke-width="1.0" stroke-linejoin="round"/>
<path d="M1408.8,388.6 L1413.5,386.8 L1418.2,384.9 L1418.8,390.5 L1415.4,394.3 L1411.6,391.5 L1407.9,391.1 Z" fill="#e1e7f3" stroke="#444" stroke-width="1.0" stroke-linejoin="round"/>
<path d="M1395.1,386.8 L1400.3,380.6 L1401.3,381.7 L1396.2,387.7 Z" fill="#e1e7f3" stroke="#444" stroke-width="1.0" stroke-linejoin="round"/>
<path d="M1421.0,403.7 L1423.3,403.7 L1423.9,408.4 L1421.4,409.3 Z" fill="#e1e7f3" stroke="#444" stroke-width="1.0" stroke-linejoin="round"/>
<path d="M1418.2,416.3 L1428.6,415.9 L1429.5,417.8 L1419.2,418.2 Z" fill="#e1e7f3" stroke="#444" stroke-width="1.0" stroke-linejoin="round"/>
<path d="M1437.6,422.5 L1439.1,422.5 L1438.9,425.3 L1437.6,424.9 Z" fill="#e1e7f3" stroke="#444" stroke-width="1.0" stroke-linejoin="round"/>
<path d="M1428.6,411.2 L1434.2,409.3 L1438.0,412.1 L1436.1,415.0 L1441.7,415.9 L1445.5,413.1 L1453.0,413.1 L1460.5,415.9 L1468.0,419.7 L1471.8,423.4 L1469.9,426.2 L1475.6,430.9 L1479.3,434.7 L1473.7,433.8 L1468.0,430.0 L1462.4,429.1 L1456.8,431.9 L1450.2,430.9 L1446.4,429.1 L1449.2,426.2 L1443.6,421.5 L1438.0,417.8 L1433.3,418.7 L1432.3,415.0 Z" fill="#e1e7f3" stroke="#444" stroke-width="1.0" stroke-linejoin="round"/>
<path d="M1473.7,422.5 L1479.3,421.5 L1483.1,417.8 L1482.1,415.0 L1485.0,417.8 L1483.1,422.5 L1477.4,424.4 Z" fill="#e1e7f3" stroke="#444" stroke-width="1.0" stroke-linejoin="round"/>
<path d="M1488.7,421.5 L1493.4,424.4 L1492.5,425.3 L1488.4,422.7 Z" fill="#e1e7f3" stroke="#444" stroke-width="1.0" stroke-linejoin="round"/>
<path d="M1496.3,426.8 L1502.3,428.7 L1501.9,429.8 L1496.3,427.9 Z" fill="#e1e7f3" stroke="#444" stroke-width="1.0" stroke-linejoin="round"/>
<path d="M1503.4,430.9 L1508.5,434.3 L1507.5,435.1 L1503.0,432.1 Z" fill="#e1e7f3" stroke="#444" stroke-width="1.0" stroke-linejoin="round"/>
<path d="M1518.8,445.1 L1520.3,445.1 L1522.0,449.8 L1520.7,449.8 Z" fill="#e1e7f3" stroke="#444" stroke-width="1.0" stroke-linejoin="round"/>
<path d="M1513.2,459.2 L1519.8,463.9 L1518.8,465.2 L1512.8,460.7 Z" fill="#e1e7f3" stroke="#444" stroke-width="1.0" stroke-linejoin="round"/>
<path d="M1546.1,452.6 L1551.7,449.4 L1552.3,450.7 L1547.0,453.9 Z" fill="#e1e7f3" stroke="#444" stroke-width="1.0" stroke-linejoin="round"/>
<path d="M1224.3,438.7 L1227.1,442.5 L1226.2,449.1 L1223.3,457.5 L1220.5,466.0 L1217.7,471.6 L1213.0,472.6 L1210.2,468.8 L1210.2,462.2 L1212.1,455.6 L1212.6,450.0 L1217.7,447.2 L1221.5,442.5 Z" fill="#e1e7f3" stroke="#444" stroke-width="1.0" stroke-linejoin="round"/>
<path d="M1385.8,463.3 L1387.6,462.7 L1393.7,459.7 L1399.7,458.5 L1405.1,457.3 L1407.5,453.1 L1409.3,450.6 L1411.7,448.8 L1415.3,445.8 L1419.5,443.4 L1422.5,443.4 L1425.5,445.2 L1427.9,441.0 L1431.5,438.0 L1432.7,436.2 L1436.9,438.0 L1441.7,438.6 L1444.7,439.2 L1444.1,442.2 L1441.1,445.2 L1444.1,447.6 L1448.9,450.6 L1453.1,452.5 L1455.6,450.0 L1456.2,445.2 L1457.4,439.2 L1458.6,435.6 L1460.4,438.6 L1462.2,443.4 L1465.8,446.4 L1467.0,452.5 L1470.6,456.1 L1474.8,460.3 L1478.4,465.1 L1482.6,468.7 L1485.6,472.9 L1486.2,478.9 L1485.0,483.7 L1482.6,489.7 L1480.2,494.5 L1478.4,499.3 L1476.0,502.9 L1471.8,504.1 L1468.2,505.9 L1464.6,504.1 L1461.0,505.3 L1456.2,504.1 L1452.5,501.7 L1450.1,498.1 L1448.3,495.1 L1446.5,491.5 L1444.7,495.1 L1442.9,493.3 L1440.5,495.1 L1438.1,490.9 L1434.5,488.5 L1430.9,487.3 L1426.1,487.3 L1420.1,488.5 L1415.3,489.7 L1411.7,492.1 L1406.9,492.7 L1400.9,493.9 L1396.1,496.3 L1391.9,495.7 L1389.4,492.7 L1391.9,489.1 L1390.0,483.7 L1388.2,478.9 L1386.4,474.1 L1385.2,469.3 Z" fill="#e1e7f3" stroke="#444" stroke-width="1.0" stroke-linejoin="round"/>
<path d="M1464.0,510.7 L1468.2,511.3 L1473.6,510.7 L1473.0,515.0 L1470.6,517.4 L1468.2,518.3 L1465.8,515.6 Z" fill="#e1e7f3" stroke="#444" stroke-width="1.0" stroke-linejoin="round"/>
<path d="M1533.7,495.1 L1536.1,495.7 L1539.1,499.3 L1540.9,501.7 L1543.3,502.9 L1548.7,502.3 L1548.1,505.3 L1545.7,508.3 L1543.9,511.3 L1540.9,513.1 L1539.1,511.9 L1540.3,508.9 L1537.9,507.7 L1539.7,504.1 L1537.3,500.5 Z" fill="#e1e7f3" stroke="#444" stroke-width="1.0" stroke-linejoin="round"/>
<path d="M1534.9,510.1 L1537.9,510.7 L1536.7,515.0 L1533.1,518.6 L1530.1,522.2 L1527.1,525.2 L1522.9,525.8 L1518.7,524.0 L1521.1,521.0 L1525.9,518.0 L1530.7,514.4 L1533.1,511.3 Z" fill="#e1e7f3" stroke="#444" stroke-width="1.0" stroke-linejoin="round"/>
<path d="M868.8,370.1 L871.7,372.6 L875.9,374.3 L880.5,375.9 L883.0,378.4 L885.1,381.8 L886.8,383.9 L890.1,386.0 L892.6,388.1 L895.6,388.9 L898.1,390.6 L899.7,389.7 L900.2,387.6 L902.2,386.4 L903.9,386.8 L905.7,390.7 L906.6,395.9 L904.8,401.9 L900.5,406.2 L897.9,411.4 L899.7,415.2 L896.6,420.0 L897.9,424.3 L902.2,429.5 L905.7,436.4 L910.0,444.1 L915.2,448.4 L922.1,451.9 L925.2,455.3 L925.2,463.1 L923.8,471.7 L922.1,480.3 L920.7,489.0 L918.6,497.6 L916.0,506.2 L915.2,513.1 L917.8,515.7 L916.0,520.0 L913.4,525.2 L911.4,531.2 L910.0,540.7 L935.9,540.7 L934.1,531.2 L935.9,527.8 L932.4,523.4 L937.6,520.0 L936.7,514.0 L941.9,511.4 L944.5,507.1 L953.1,505.3 L958.3,501.0 L955.7,496.7 L954.0,494.1 L961.7,496.7 L966.9,494.1 L972.1,489.0 L977.2,482.1 L979.0,475.2 L984.1,470.0 L991.0,466.6 L997.9,464.0 L1001.4,456.2 L1003.1,449.3 L1003.1,444.1 L1008.3,437.2 L1012.6,430.3 L1013.8,425.2 L1011.7,421.7 L1006.6,418.3 L999.7,415.7 L991.0,415.2 L987.6,412.2 L980.7,410.5 L974.7,408.8 L973.8,402.8 L970.3,397.6 L965.2,394.1 L959.1,393.3 L954.0,389.8 L949.7,386.4 L947.9,382.1 L941.0,381.7 L935.9,382.4 L930.7,381.2 L925.5,378.6 L922.4,377.8 L921.7,383.8 L920.7,378.6 L916.9,378.6 L911.7,382.1 L906.6,385.5 L904.3,386.0 L903.1,384.7 L901.0,384.7 L899.3,386.0 L896.8,386.4 L894.3,385.1 L891.8,382.6 L891.0,380.1 L891.4,376.8 L892.6,373.4 L892.2,370.9 L889.3,368.8 L885.1,368.4 L880.9,368.8 L878.4,368.0 L878.8,365.5 L880.1,363.0 L876.8,361.3 L869.2,365.9 Z" fill="#e1e7f3" stroke="#444" stroke-width="1.0" stroke-linejoin="round"/>
<path d="M887.9,353.4 L891.7,351.3 L896.1,350.3 L900.4,351.3 L904.2,352.8 L908.0,354.6 L911.7,356.3 L913.6,357.5 L909.8,358.4 L906.7,357.8 L904.8,356.5 L901.1,354.3 L897.3,352.8 L892.9,352.5 L889.8,353.8 Z" fill="#e1e7f3" stroke="#444" stroke-width="1.0" stroke-linejoin="round"/>
<path d="M916.7,359.0 L921.1,358.0 L925.5,359.3 L928.7,360.9 L926.1,362.8 L921.8,363.0 L919.2,363.8 L916.1,363.0 L918.2,361.5 Z" fill="#e1e7f3" stroke="#444" stroke-width="1.0" stroke-linejoin="round"/>
<path d="M904.8,362.5 L908.6,362.2 L909.2,363.8 L905.5,364.0 Z" fill="#e1e7f3" stroke="#444" stroke-width="1.0" stroke-linejoin="round"/>
<path d="M932.0,362.2 L936.2,362.2 L936.2,363.8 L932.0,363.8 Z" fill="#e1e7f3" stroke="#444" stroke-width="1.0" stroke-linejoin="round"/>
<path d="M902.9,341.2 L907.3,341.2 L907.3,342.7 L904.2,342.5 Z" fill="#e1e7f3" stroke="#444" stroke-width="1.0" stroke-linejoin="round"/>
<path d="M904.8,345.2 L906.1,345.2 L906.5,348.4 L905.2,348.4 Z" fill="#e1e7f3" stroke="#444" stroke-width="1.0" stroke-linejoin="round"/>
<path d="M747.0,233.5 L757.0,234.9 L767.1,233.2 L778.8,231.8 L785.5,232.7 L780.0,231.3 L786.3,232.8 L792.5,232.3 L800.9,233.9 L810.3,236.0 L813.4,237.5 L821.8,237.2 L828.1,238.6 L836.4,237.2 L844.8,237.9 L853.1,237.9 L859.4,239.1 L863.6,236.5 L862.5,233.7 L858.4,232.6 L859.4,229.7 L863.6,228.7 L867.8,230.2 L870.9,232.8 L874.0,234.9 L879.3,236.5 L881.4,239.1 L884.5,237.5 L885.0,234.9 L888.7,234.4 L893.9,233.9 L897.0,236.0 L896.0,239.1 L892.9,241.2 L887.6,242.2 L884.5,243.1 L882.9,245.9 L880.3,247.3 L877.2,249.6 L872.0,251.7 L866.7,254.8 L863.6,259.0 L866.7,262.1 L870.9,264.7 L879.3,266.8 L885.5,268.4 L890.8,269.9 L894.9,271.0 L896.0,274.6 L898.1,277.8 L901.2,279.3 L903.3,276.7 L902.3,272.5 L905.4,269.4 L908.5,266.3 L907.5,263.1 L904.3,261.1 L906.4,256.9 L905.4,252.7 L910.6,251.7 L917.9,252.7 L922.1,254.8 L926.3,256.9 L929.4,261.1 L932.6,262.1 L935.7,259.0 L938.8,257.4 L943.0,262.1 L946.1,266.3 L950.3,269.4 L955.5,272.5 L960.8,275.7 L961.8,278.8 L960.6,278.8 L955.6,280.0 L949.3,280.7 L940.6,282.5 L935.5,283.8 L930.5,286.9 L938.1,285.7 L941.2,286.9 L938.1,288.8 L939.3,290.7 L943.1,291.9 L948.1,291.3 L950.6,292.6 L946.8,294.5 L940.6,297.3 L935.5,299.1 L934.9,297.0 L932.4,295.1 L930.5,295.1 L931.2,293.2 L928.0,288.8 L921.8,292.6 L910.5,298.2 L908.6,300.1 L902.9,300.1 L901.1,302.9 L893.5,303.9 L891.7,301.3 L890.4,297.0 L885.4,293.8 L880.4,290.7 L872.9,288.8 L867.8,286.9 L862.8,285.4 L793.2,285.4 L793.2,290.1 L789.5,286.3 L785.1,283.8 L778.8,281.9 L776.3,276.3 L772.5,270.0 L778.8,280.3 L773.8,273.6 L767.1,265.3 L757.0,261.1 L747.0,256.9 Z" fill="#bc5a84" stroke="#444" stroke-width="1.0" stroke-linejoin="round"/>
<path d="M785.2,227.1 L787.8,222.4 L795.7,221.3 L808.2,222.9 L802.5,226.1 L796.7,229.7 L790.4,230.2 Z" fill="#bc5a84" stroke="#444" stroke-width="1.0" stroke-linejoin="round"/>
<path d="M801.4,228.7 L807.2,225.0 L814.5,226.1 L823.9,225.5 L829.1,227.6 L831.2,225.0 L836.9,225.5 L839.6,229.7 L846.9,232.8 L842.7,235.5 L834.3,236.0 L827.0,236.0 L818.7,236.5 L811.3,236.0 L810.3,233.9 L818.7,231.8 L806.1,230.8 Z" fill="#bc5a84" stroke="#444" stroke-width="1.0" stroke-linejoin="round"/>
<path d="M792.5,217.2 L798.8,214.6 L809.3,213.5 L808.2,216.1 L800.9,217.7 L795.7,218.2 Z" fill="#bc5a84" stroke="#444" stroke-width="1.0" stroke-linejoin="round"/>
<path d="M805.6,219.3 L811.3,216.6 L819.7,217.2 L824.9,215.6 L829.1,217.2 L834.9,218.2 L834.3,220.3 L826.0,219.8 L819.7,221.3 L811.3,220.8 Z" fill="#bc5a84" stroke="#444" stroke-width="1.0" stroke-linejoin="round"/>
<path d="M816.6,212.5 L820.2,210.4 L825.5,211.4 L823.9,213.5 L818.7,214.6 Z" fill="#bc5a84" stroke="#444" stroke-width="1.0" stroke-linejoin="round"/>
<path d="M835.9,209.3 L842.7,209.9 L850.0,211.9 L849.5,213.5 L842.7,213.0 L837.5,211.9 Z" fill="#bc5a84" stroke="#444" stroke-width="1.0" stroke-linejoin="round"/>
<path d="M843.2,217.2 L847.9,216.1 L854.7,216.6 L855.2,219.3 L851.1,220.8 L845.8,219.8 Z" fill="#bc5a84" stroke="#444" stroke-width="1.0" stroke-linejoin="round"/>
<path d="M853.1,210.4 L859.4,210.9 L864.6,213.5 L862.5,215.1 L856.3,213.5 Z" fill="#bc5a84" stroke="#444" stroke-width="1.0" stroke-linejoin="round"/>
<path d="M858.4,219.8 L863.6,218.7 L866.2,220.8 L862.5,221.9 L858.9,221.3 Z" fill="#bc5a84" stroke="#444" stroke-width="1.0" stroke-linejoin="round"/>
<path d="M843.7,226.1 L847.9,223.4 L856.3,223.4 L857.8,226.1 L857.3,229.7 L853.1,229.2 L847.9,227.6 Z" fill="#bc5a84" stroke="#444" stroke-width="1.0" stroke-linejoin="round"/>
<path d="M860.5,224.5 L863.6,222.4 L872.0,222.9 L868.8,225.5 L864.6,228.1 L861.0,227.6 Z" fill="#bc5a84" stroke="#444" stroke-width="1.0" stroke-linejoin="round"/>
<path d="M852.1,233.9 L856.3,232.8 L860.5,234.4 L859.4,236.0 L855.2,236.5 Z" fill="#bc5a84" stroke="#444" stroke-width="1.0" stroke-linejoin="round"/>
<path d="M875.6,226.1 L880.3,224.5 L886.6,225.0 L892.9,224.0 L897.0,225.0 L898.1,227.1 L903.3,226.1 L908.5,226.1 L911.7,227.6 L917.9,229.2 L924.2,230.2 L930.5,231.8 L933.6,234.9 L938.8,237.0 L945.1,240.2 L946.1,241.7 L943.0,243.8 L936.7,243.3 L930.5,243.8 L933.6,245.4 L938.8,247.5 L937.8,250.1 L934.6,252.7 L930.5,250.6 L926.3,249.6 L920.0,246.9 L914.8,245.4 L909.6,246.9 L904.3,246.4 L905.4,244.9 L911.7,243.8 L915.8,242.2 L916.9,239.1 L913.8,237.0 L909.6,236.0 L907.5,233.9 L901.2,233.9 L897.0,233.4 L890.8,233.1 L885.5,233.9 L880.3,232.8 L876.7,230.8 L874.6,228.1 Z" fill="#bc5a84" stroke="#444" stroke-width="1.0" stroke-linejoin="round"/>
<path d="M885.0,243.8 L891.8,246.4 L899.1,248.5 L894.9,250.1 L890.8,252.7 L888.7,250.1 L883.4,249.0 Z" fill="#bc5a84" stroke="#444" stroke-width="1.0" stroke-linejoin="round"/>
<path d="M898.1,224.0 L905.4,223.4 L909.6,225.5 L903.3,226.6 L899.1,226.6 Z" fill="#bc5a84" stroke="#444" stroke-width="1.0" stroke-linejoin="round"/>
<path d="M907.5,238.6 L910.6,237.5 L912.2,239.1 L909.0,240.2 Z" fill="#bc5a84" stroke="#444" stroke-width="1.0" stroke-linejoin="round"/>
<path d="M871.4,202.8 L879.2,201.5 L886.5,200.5 L893.3,200.0 L896.9,199.2 L912.6,198.9 L928.2,199.1 L938.6,200.0 L945.4,201.0 L944.4,202.0 L938.6,202.8 L933.4,203.4 L930.6,204.6 L931.3,205.4 L927.2,206.9 L921.9,208.3 L915.2,209.0 L908.4,209.3 L911.5,211.2 L907.4,213.0 L904.7,213.9 L905.8,215.8 L902.1,216.4 L896.9,216.7 L891.7,216.5 L883.9,216.1 L876.1,215.8 L879.2,214.3 L880.5,213.4 L887.5,214.0 L883.9,212.5 L879.7,212.5 L883.4,210.6 L887.5,210.9 L886.5,209.9 L883.9,209.1 L887.5,208.7 L882.3,207.3 L889.6,207.1 L895.9,206.2 L886.5,205.9 L879.2,206.1 L872.9,205.3 L870.9,204.0 Z" fill="#bc5a84" stroke="#444" stroke-width="1.0" stroke-linejoin="round"/>
<path d="M858.3,207.5 L863.0,204.9 L870.9,204.3 L872.9,205.4 L879.2,206.2 L882.3,207.4 L883.4,209.0 L881.3,210.6 L878.2,211.7 L871.9,211.9 L865.6,210.7 L865.1,209.3 L859.4,208.7 Z" fill="#bc5a84" stroke="#444" stroke-width="1.0" stroke-linejoin="round"/>
<path d="M857.3,215.6 L865.6,215.1 L871.9,215.9 L874.5,217.9 L881.3,219.0 L891.7,219.2 L900.1,219.5 L900.6,220.5 L896.9,221.1 L886.5,221.1 L876.1,220.8 L868.8,220.0 L867.2,217.4 L858.3,216.4 Z" fill="#bc5a84" stroke="#444" stroke-width="1.0" stroke-linejoin="round"/>
<path d="M766.2,272.7 L768.7,272.0 L770.4,273.5 L770.2,275.6 L772.1,277.7 L770.8,278.1 L768.3,276.0 L766.6,274.2 Z" fill="#bc5a84" stroke="#444" stroke-width="1.0" stroke-linejoin="round"/>
<path d="M778.3,281.4 L782.1,282.3 L787.1,284.8 L791.3,286.9 L793.4,289.8 L790.5,288.1 L786.3,286.0 L782.1,283.9 Z" fill="#bc5a84" stroke="#444" stroke-width="1.0" stroke-linejoin="round"/>
<path d="M952.5,288.8 L953.7,285.0 L956.9,281.9 L960.6,279.4 L961.9,281.9 L960.6,284.4 L965.6,285.0 L968.8,287.6 L968.2,290.7 L965.0,291.9 L961.9,289.4 L956.9,289.4 Z" fill="#bc5a84" stroke="#444" stroke-width="1.0" stroke-linejoin="round"/>
<path d="M793.2,285.4 L862.8,285.4 L867.8,286.9 L872.9,288.8 L880.4,290.7 L885.4,293.8 L890.4,297.0 L891.7,301.3 L893.5,303.9 L901.1,302.9 L902.9,300.1 L908.6,300.1 L910.5,298.2 L921.8,292.6 L928.0,288.8 L931.2,293.2 L930.5,295.1 L928.0,297.0 L925.5,299.5 L924.3,302.6 L925.5,303.9 L921.8,304.5 L916.7,306.4 L914.2,307.6 L912.4,310.1 L909.8,311.4 L909.2,313.9 L910.5,315.8 L911.7,318.3 L909.2,320.8 L904.2,323.9 L899.8,327.1 L897.3,329.6 L896.1,332.1 L897.9,336.5 L899.2,340.2 L899.2,344.0 L897.9,345.2 L894.8,342.7 L892.9,339.6 L891.7,336.5 L890.4,333.9 L886.6,332.7 L881.6,332.7 L877.9,333.3 L876.6,335.2 L872.9,334.6 L869.1,334.6 L864.1,335.2 L860.3,337.1 L857.2,339.6 L855.9,342.7 L854.0,342.1 L852.2,337.7 L849.7,335.8 L847.8,334.6 L845.3,335.8 L842.1,335.2 L840.3,332.1 L837.7,330.2 L834.0,328.9 L829.6,328.9 L825.2,328.3 L820.2,328.9 L815.8,328.3 L810.2,327.1 L807.0,326.4 L805.8,325.2 L801.4,322.7 L797.6,320.2 L795.1,316.4 L792.0,312.0 L789.5,308.2 L788.2,305.1 L788.8,301.3 L789.5,297.0 L790.1,292.6 L789.5,288.8 L793.2,290.1 Z" fill="#a63a66" stroke="#444" stroke-width="1.0" stroke-linejoin="round"/>
<path d="M747.0,233.8 L741.1,232.5 L732.8,232.1 L724.4,231.3 L718.6,230.4 L713.5,230.0 L707.7,229.2 L703.5,230.0 L699.3,230.9 L694.3,231.3 L691.8,233.4 L688.5,235.0 L682.6,235.5 L682.2,237.1 L686.8,238.8 L691.8,240.1 L695.2,242.6 L690.1,241.9 L685.1,242.6 L679.3,243.8 L681.8,245.1 L686.8,246.8 L691.8,247.2 L697.2,246.6 L696.8,248.4 L692.6,249.3 L688.5,250.1 L685.1,252.2 L683.9,254.3 L686.0,255.9 L689.3,257.2 L693.5,258.0 L694.7,261.0 L699.3,261.4 L703.5,261.0 L706.4,261.0 L706.0,263.1 L702.7,265.6 L698.5,267.6 L693.5,269.3 L687.6,271.4 L687.2,272.5 L692.6,271.2 L698.5,269.7 L703.5,268.5 L708.5,266.0 L711.9,263.5 L715.2,261.0 L716.1,259.3 L718.6,256.8 L723.2,255.1 L720.2,257.6 L720.7,260.1 L725.3,258.9 L729.4,258.0 L730.3,255.9 L735.3,257.2 L740.3,258.5 L747.0,258.0 L751.2,259.3 L754.5,261.0 L756.2,261.8 L759.5,259.3 L762.0,259.3 L765.4,262.6 L768.7,266.0 L772.1,268.1 L775.0,268.5 L774.2,271.0 L770.4,269.3 L767.0,266.8 L764.5,263.5 L762.0,262.2 L756.2,262.6 L752.0,261.0 L747.0,258.6 Z" fill="#a63a66" stroke="#444" stroke-width="1.0" stroke-linejoin="round"/>
<path d="M713.1,265.1 L716.1,263.5 L719.0,263.1 L719.4,264.3 L716.1,266.0 L714.0,266.6 Z" fill="#a63a66" stroke="#444" stroke-width="1.0" stroke-linejoin="round"/>
<path d="M680.1,257.2 L684.3,256.8 L686.0,258.5 L681.8,258.6 Z" fill="#a63a66" stroke="#444" stroke-width="1.0" stroke-linejoin="round"/>
<path d="M669.2,248.8 L673.4,248.4 L677.6,249.3 L677.2,250.5 L672.6,250.3 L669.7,249.9 Z" fill="#a63a66" stroke="#444" stroke-width="1.0" stroke-linejoin="round"/>
<path d="M807.0,326.4 L810.2,327.1 L815.8,328.3 L820.2,328.9 L825.2,328.3 L829.6,328.9 L834.0,328.9 L837.7,330.2 L840.3,332.1 L842.1,335.2 L845.3,335.8 L847.8,334.6 L849.7,335.8 L852.2,337.7 L854.0,342.1 L855.9,342.7 L855.9,345.2 L855.9,350.3 L857.2,354.0 L859.7,357.8 L862.2,360.3 L866.0,362.2 L870.3,360.9 L873.5,357.8 L875.4,355.9 L879.1,354.6 L883.5,355.3 L882.3,358.4 L881.0,362.2 L877.9,363.4 L874.7,363.4 L873.5,366.6 L871.6,367.8 L871.0,369.7 L869.1,370.9 L866.0,369.1 L860.3,367.2 L855.3,365.9 L850.3,364.0 L845.3,362.2 L840.9,359.7 L837.1,357.8 L835.9,355.3 L837.1,353.4 L834.0,350.3 L830.2,346.5 L826.5,342.7 L822.7,339.6 L819.6,335.8 L817.1,332.1 L815.2,330.2 L813.7,329.9 L815.8,335.2 L818.3,339.0 L820.8,342.7 L823.3,346.5 L825.8,350.3 L825.2,351.5 L823.3,349.6 L820.2,347.1 L817.7,344.0 L815.2,340.2 L812.0,339.0 L811.4,336.5 L808.9,331.4 Z" fill="#c76a93" stroke="#444" stroke-width="1.0" stroke-linejoin="round"/>
<path d="M870.3,290.7 L872.9,288.2 L877.9,286.1 L882.3,285.7 L885.4,286.9 L887.9,288.8 L889.2,290.7 L885.4,291.6 L882.3,290.7 L879.1,291.3 L874.7,291.3 Z" fill="#ffffff" stroke="none" stroke-width="0" stroke-linejoin="round"/>
<path d="M881.0,295.7 L883.5,294.5 L885.4,297.0 L885.1,301.3 L883.9,303.6 L881.4,303.6 L880.4,299.5 Z" fill="#ffffff" stroke="none" stroke-width="0" stroke-linejoin="round"/>
<path d="M886.6,293.2 L890.4,292.6 L894.8,293.2 L898.6,294.5 L900.4,297.0 L899.2,299.5 L896.1,300.7 L894.2,299.5 L893.5,297.0 L890.4,295.7 L889.8,298.2 L891.7,301.3 L889.2,300.1 L887.9,297.0 Z" fill="#ffffff" stroke="none" stroke-width="0" stroke-linejoin="round"/>
<path d="M892.3,303.2 L896.7,302.0 L902.3,300.1 L902.9,301.3 L897.9,303.9 L893.5,304.9 Z" fill="#ffffff" stroke="none" stroke-width="0" stroke-linejoin="round"/>
<path d="M902.3,299.1 L906.1,298.2 L909.8,297.8 L909.8,299.1 L905.5,300.1 L902.9,300.3 Z" fill="#ffffff" stroke="none" stroke-width="0" stroke-linejoin="round"/>
<path d="M818.1,304.7 L819.3,304.5 L819.6,305.6 L818.3,305.7 Z" fill="#ffffff" stroke="none" stroke-width="0" stroke-linejoin="round"/>
<path d="M788.4,242.2 L793.6,241.2 L799.3,241.0 L800.9,240.2 L801.9,241.2 L805.6,241.7 L805.1,243.3 L799.9,243.8 L796.7,245.4 L792.5,244.9 L793.6,243.3 Z" fill="#ffffff" stroke="none" stroke-width="0" stroke-linejoin="round"/>
<path d="M804.0,254.3 L808.2,252.7 L812.4,251.7 L818.7,251.7 L823.9,250.1 L826.8,250.4 L823.9,252.2 L819.7,253.7 L815.5,255.3 L810.3,255.8 L806.1,255.6 Z" fill="#ffffff" stroke="none" stroke-width="0" stroke-linejoin="round"/>
<path d="M821.8,261.6 L826.0,259.8 L832.2,259.0 L832.0,259.8 L827.0,261.1 L822.8,262.1 Z" fill="#ffffff" stroke="none" stroke-width="0" stroke-linejoin="round"/>
<path d="M842.2,266.8 L844.3,263.7 L846.0,262.9 L845.3,264.7 L843.2,267.1 Z" fill="#ffffff" stroke="none" stroke-width="0" stroke-linejoin="round"/>
<path d="M848.5,273.8 L849.5,272.2 L850.4,273.8 L850.1,275.1 L849.2,274.7 Z" fill="#ffffff" stroke="none" stroke-width="0" stroke-linejoin="round"/>
<path d="M852.3,273.8 L854.2,272.2 L855.7,272.9 L857.0,275.7 L858.2,278.2 L859.5,280.7 L858.6,282.0 L857.0,280.1 L855.4,277.6 L853.9,275.7 Z" fill="#ffffff" stroke="none" stroke-width="0" stroke-linejoin="round"/>
<path d="M1176.8,254.5 L1179.0,254.2 L1181.5,255.1 L1183.1,256.3 L1181.5,257.6 L1179.3,257.3 L1177.7,256.0 Z" fill="#ffffff" stroke="none" stroke-width="0" stroke-linejoin="round"/>
<path d="M1187.5,251.6 L1189.0,251.3 L1190.6,252.9 L1191.7,254.8 L1190.3,255.2 L1188.7,253.5 Z" fill="#ffffff" stroke="none" stroke-width="0" stroke-linejoin="round"/>
<path d="M1132.0,261.4 L1135.1,260.1 L1135.9,260.6 L1132.9,262.0 Z" fill="#ffffff" stroke="none" stroke-width="0" stroke-linejoin="round"/>
<path d="M1181.0,409.6 L1183.9,408.1 L1186.7,409.2 L1185.7,413.7 L1182.0,414.3 Z" fill="#ffffff" stroke="none" stroke-width="0" stroke-linejoin="round"/>
<path d="M1173.9,418.0 L1175.0,418.0 L1178.2,429.3 L1176.9,429.9 Z" fill="#ffffff" stroke="none" stroke-width="0" stroke-linejoin="round"/>
<path d="M1186.3,433.1 L1187.4,433.1 L1188.9,443.4 L1187.8,443.8 Z" fill="#ffffff" stroke="none" stroke-width="0" stroke-linejoin="round"/>
<path d="M1361.8,278.8 L1368.2,275.8 L1374.7,271.0 L1376.7,269.0 L1375.5,272.6 L1370.7,276.7 L1365.0,279.4 Z" fill="#ffffff" stroke="none" stroke-width="0" stroke-linejoin="round"/>
<path d="M1286.4,292.4 L1292.1,291.2 L1299.4,291.4 L1299.1,292.4 L1292.4,292.5 L1286.9,294.0 Z" fill="#ffffff" stroke="none" stroke-width="0" stroke-linejoin="round"/>
<path d="M1248.1,293.5 L1249.6,292.8 L1250.6,295.0 L1249.3,296.5 L1248.3,295.6 Z" fill="#ffffff" stroke="none" stroke-width="0" stroke-linejoin="round"/>
<path d="M925.5,447.2 L927.2,447.9 L928.3,449.7 L926.9,449.3 Z" fill="#ffffff" stroke="none" stroke-width="0" stroke-linejoin="round"/>
<path d="M699.8,352.6 L701.2,352.6 L701.2,353.9 L699.8,353.9 Z" fill="#a63a66" stroke="#444" stroke-width="1.0" stroke-linejoin="round"/>
<path d="M703.5,354.0 L706.0,354.8 L708.5,356.0 L708.2,356.9 L705.5,355.8 L703.3,354.9 Z" fill="#a63a66" stroke="#444" stroke-width="1.0" stroke-linejoin="round"/>
<path d="M709.3,358.0 L711.5,357.8 L712.5,359.5 L711.0,361.0 L709.5,360.3 Z" fill="#a63a66" stroke="#444" stroke-width="1.0" stroke-linejoin="round"/>
<path d="M649.0,448.8 L649.9,448.8 L649.9,449.9 L649.0,449.9 Z" fill="#e1e7f3" stroke="#444" stroke-width="1.0" stroke-linejoin="round"/>
</g>
<defs><linearGradient id="cb" x1="0" y1="0" x2="0" y2="1"><stop offset="0" stop-color="#a03762"/><stop offset="0.5" stop-color="#d27ea3"/><stop offset="1" stop-color="#ffcbe0"/></linearGradient></defs>
<rect x="1820.7" y="300.7" width="9.3" height="160.3" fill="url(#cb)"/>
<text x="1821" y="293" font-size="13" style="font-family:'DejaVu Sans',Verdana,sans-serif" fill="#2a3f5f">% of GDP</text>
<text x="1832.5" y="319.59999999999997" font-size="11.3" style="font-family:'DejaVu Sans',Verdana,sans-serif" fill="#2a3f5f">2</text>
<text x="1832.5" y="372.3" font-size="11.3" style="font-family:'DejaVu Sans',Verdana,sans-serif" fill="#2a3f5f">1.5</text>
<text x="1832.5" y="426.3" font-size="11.3" style="font-family:'DejaVu Sans',Verdana,sans-serif" fill="#2a3f5f">1</text></svg>
</div>
<div class="card" style="left:389px;top:550px;width:741px;height:385px">
  <div class="hd">Pharma Spend as a % of GDP by Country (2000 to 2016)</div>
  <svg id="line" class="abs" style="left:0;top:36px" width="739" height="347" viewBox="390 587 739 347"><line x1="442.5" x2="978.5" y1="881.0" y2="881.0" stroke="#ddd" stroke-width="1"/>
<line x1="442.5" x2="978.5" y1="856.5" y2="856.5" stroke="#ddd" stroke-width="1"/>
<line x1="442.5" x2="978.5" y1="831.9" y2="831.9" stroke="#ddd" stroke-width="1"/>
<line x1="442.5" x2="978.5" y1="807.4" y2="807.4" stroke="#ddd" stroke-width="1"/>
<line x1="442.5" x2="978.5" y1="782.8" y2="782.8" stroke="#ddd" stroke-width="1"/>
<line x1="442.5" x2="978.5" y1="758.3" y2="758.3" stroke="#ddd" stroke-width="1"/>
<line x1="442.5" x2="978.5" y1="733.7" y2="733.7" stroke="#ddd" stroke-width="1"/>
<line x1="442.5" x2="978.5" y1="709.2" y2="709.2" stroke="#ddd" stroke-width="1"/>
<line x1="442.5" x2="978.5" y1="684.6" y2="684.6" stroke="#ddd" stroke-width="1"/>
<line x1="442.5" x2="978.5" y1="660.1" y2="660.1" stroke="#ddd" stroke-width="1"/>
<line x1="442.5" x2="978.5" y1="635.5" y2="635.5" stroke="#ddd" stroke-width="1"/>
<line x1="442.5" x2="978.5" y1="611.0" y2="611.0" stroke="#ddd" stroke-width="1"/>
<line x1="442.5" x2="442.5" y1="611" y2="881" stroke="#ddd" stroke-width="1"/>
<line x1="476.0" x2="476.0" y1="611" y2="881" stroke="#ddd" stroke-width="1"/>
<line x1="509.5" x2="509.5" y1="611" y2="881" stroke="#ddd" stroke-width="1"/>
<line x1="543.0" x2="543.0" y1="611" y2="881" stroke="#ddd" stroke-width="1"/>
<line x1="576.5" x2="576.5" y1="611" y2="881" stroke="#ddd" stroke-width="1"/>
<line x1="610.0" x2="610.0" y1="611" y2="881" stroke="#ddd" stroke-width="1"/>
<line x1="643.5" x2="643.5" y1="611" y2="881" stroke="#ddd" stroke-width="1"/>
<line x1="677.0" x2="677.0" y1="611" y2="881" stroke="#ddd" stroke-width="1"/>
<line x1="710.5" x2="710.5" y1="611" y2="881" stroke="#ddd" stroke-width="1"/>
<line x1="744.0" x2="744.0" y1="611" y2="881" stroke="#ddd" stroke-width="1"/>
<line x1="777.5" x2="777.5" y1="611" y2="881" stroke="#ddd" stroke-width="1"/>
<line x1="811.0" x2="811.0" y1="611" y2="881" stroke="#ddd" stroke-width="1"/>
<line x1="844.5" x2="844.5" y1="611" y2="881" stroke="#ddd" stroke-width="1"/>
<line x1="878.0" x2="878.0" y1="611" y2="881" stroke="#ddd" stroke-width="1"/>
<line x1="911.5" x2="911.5" y1="611" y2="881" stroke="#ddd" stroke-width="1"/>
<line x1="945.0" x2="945.0" y1="611" y2="881" stroke="#ddd" stroke-width="1"/>
<line x1="978.5" x2="978.5" y1="611" y2="881" stroke="#ddd" stroke-width="1"/>
<line x1="442.5" x2="442.5" y1="611" y2="881" stroke="#888" stroke-width="1"/>
<line x1="442.5" x2="978.5" y1="881" y2="881" stroke="#888" stroke-width="1"/>
<line x1="437.5" x2="442.5" y1="881.0" y2="881.0" stroke="#888" stroke-width="1"/>
<text x="435.5" y="884.3" font-size="8.9" text-anchor="end" fill="#000">0.0</text>
<line x1="437.5" x2="442.5" y1="856.5" y2="856.5" stroke="#888" stroke-width="1"/>
<text x="435.5" y="859.8" font-size="8.9" text-anchor="end" fill="#000">0.2</text>
<line x1="437.5" x2="442.5" y1="831.9" y2="831.9" stroke="#888" stroke-width="1"/>
<text x="435.5" y="835.2" font-size="8.9" text-anchor="end" fill="#000">0.4</text>
<line x1="437.5" x2="442.5" y1="807.4" y2="807.4" stroke="#888" stroke-width="1"/>
<text x="435.5" y="810.7" font-size="8.9" text-anchor="end" fill="#000">0.6</text>
<line x1="437.5" x2="442.5" y1="782.8" y2="782.8" stroke="#888" stroke-width="1"/>
<text x="435.5" y="786.1" font-size="8.9" text-anchor="end" fill="#000">0.8</text>
<line x1="437.5" x2="442.5" y1="758.3" y2="758.3" stroke="#888" stroke-width="1"/>
<text x="435.5" y="761.6" font-size="8.9" text-anchor="end" fill="#000">1.0</text>
<line x1="437.5" x2="442.5" y1="733.7" y2="733.7" stroke="#888" stroke-width="1"/>
<text x="435.5" y="737.0" font-size="8.9" text-anchor="end" fill="#000">1.2</text>
<line x1="437.5" x2="442.5" y1="709.2" y2="709.2" stroke="#888" stroke-width="1"/>
<text x="435.5" y="712.5" font-size="8.9" text-anchor="end" fill="#000">1.4</text>
<line x1="437.5" x2="442.5" y1="684.6" y2="684.6" stroke="#888" stroke-width="1"/>
<text x="435.5" y="687.9" font-size="8.9" text-anchor="end" fill="#000">1.6</text>
<line x1="437.5" x2="442.5" y1="660.1" y2="660.1" stroke="#888" stroke-width="1"/>
<text x="435.5" y="663.4" font-size="8.9" text-anchor="end" fill="#000">1.8</text>
<line x1="437.5" x2="442.5" y1="635.5" y2="635.5" stroke="#888" stroke-width="1"/>
<text x="435.5" y="638.8" font-size="8.9" text-anchor="end" fill="#000">2.0</text>
<line x1="437.5" x2="442.5" y1="611.0" y2="611.0" stroke="#888" stroke-width="1"/>
<text x="435.5" y="614.3" font-size="8.9" text-anchor="end" fill="#000">2.2</text>
<line x1="442.5" x2="442.5" y1="881" y2="886" stroke="#888" stroke-width="1"/>
<text x="442.5" y="896" font-size="8.9" text-anchor="start" fill="#000">2000</text>
<line x1="476.0" x2="476.0" y1="881" y2="886" stroke="#888" stroke-width="1"/>
<text x="476.0" y="896" font-size="8.9" text-anchor="middle" fill="#000">2001</text>
<line x1="509.5" x2="509.5" y1="881" y2="886" stroke="#888" stroke-width="1"/>
<text x="509.5" y="896" font-size="8.9" text-anchor="middle" fill="#000">2002</text>
<line x1="543.0" x2="543.0" y1="881" y2="886" stroke="#888" stroke-width="1"/>
<text x="543.0" y="896" font-size="8.9" text-anchor="middle" fill="#000">2003</text>
<line x1="576.5" x2="576.5" y1="881" y2="886" stroke="#888" stroke-width="1"/>
<text x="576.5" y="896" font-size="8.9" text-anchor="middle" fill="#000">2004</text>
<line x1="610.0" x2="610.0" y1="881" y2="886" stroke="#888" stroke-width="1"/>
<text x="610.0" y="896" font-size="8.9" text-anchor="middle" fill="#000">2005</text>
<line x1="643.5" x2="643.5" y1="881" y2="886" stroke="#888" stroke-width="1"/>
<text x="643.5" y="896" font-size="8.9" text-anchor="middle" fill="#000">2006</text>
<line x1="677.0" x2="677.0" y1="881" y2="886" stroke="#888" stroke-width="1"/>
<text x="677.0" y="896" font-size="8.9" text-anchor="middle" fill="#000">2007</text>
<line x1="710.5" x2="710.5" y1="881" y2="886" stroke="#888" stroke-width="1"/>
<text x="710.5" y="896" font-size="8.9" text-anchor="middle" fill="#000">2008</text>
<line x1="744.0" x2="744.0" y1="881" y2="886" stroke="#888" stroke-width="1"/>
<text x="744.0" y="896" font-size="8.9" text-anchor="middle" fill="#000">2009</text>
<line x1="777.5" x2="777.5" y1="881" y2="886" stroke="#888" stroke-width="1"/>
<text x="777.5" y="896" font-size="8.9" text-anchor="middle" fill="#000">2010</text>
<line x1="811.0" x2="811.0" y1="881" y2="886" stroke="#888" stroke-width="1"/>
<text x="811.0" y="896" font-size="8.9" text-anchor="middle" fill="#000">2011</text>
<line x1="844.5" x2="844.5" y1="881" y2="886" stroke="#888" stroke-width="1"/>
<text x="844.5" y="896" font-size="8.9" text-anchor="middle" fill="#000">2012</text>
<line x1="878.0" x2="878.0" y1="881" y2="886" stroke="#888" stroke-width="1"/>
<text x="878.0" y="896" font-size="8.9" text-anchor="middle" fill="#000">2013</text>
<line x1="911.5" x2="911.5" y1="881" y2="886" stroke="#888" stroke-width="1"/>
<text x="911.5" y="896" font-size="8.9" text-anchor="middle" fill="#000">2014</text>
<line x1="945.0" x2="945.0" y1="881" y2="886" stroke="#888" stroke-width="1"/>
<text x="945.0" y="896" font-size="8.9" text-anchor="middle" fill="#000">2015</text>
<line x1="978.5" x2="978.5" y1="881" y2="886" stroke="#888" stroke-width="1"/>
<text x="979.5" y="896" font-size="8.9" text-anchor="end" fill="#000">2016</text>
<text x="710.5" y="908" font-size="9.6" font-weight="bold" text-anchor="middle" fill="#000">Year</text>
<text transform="translate(417,746) rotate(-90)" font-size="9.6" font-weight="bold" text-anchor="middle" fill="#000">% of GDP</text>
<path d="M442.5,712.0 L476.0,701.3 L509.5,690.6 L543.0,682.9 L576.5,679.9 L610.0,679.9 L643.5,674.6 L677.0,674.9 L710.5,673.9 L744.0,649.5 L777.5,641.8 L811.0,651.2 L844.5,656.5 L878.0,662.9 L911.5,667.2" fill="none" stroke="#1b9e77" stroke-width="2" stroke-linejoin="round"/>
<circle cx="442.5" cy="712.0" r="2.6" fill="#1b9e77" fill-opacity="0.8"/>
<circle cx="476.0" cy="701.3" r="2.6" fill="#1b9e77" fill-opacity="0.8"/>
<circle cx="509.5" cy="690.6" r="2.6" fill="#1b9e77" fill-opacity="0.8"/>
<circle cx="543.0" cy="682.9" r="2.6" fill="#1b9e77" fill-opacity="0.8"/>
<circle cx="576.5" cy="679.9" r="2.6" fill="#1b9e77" fill-opacity="0.8"/>
<circle cx="610.0" cy="679.9" r="2.6" fill="#1b9e77" fill-opacity="0.8"/>
<circle cx="643.5" cy="674.6" r="2.6" fill="#1b9e77" fill-opacity="0.8"/>
<circle cx="677.0" cy="674.9" r="2.6" fill="#1b9e77" fill-opacity="0.8"/>
<circle cx="710.5" cy="673.9" r="2.6" fill="#1b9e77" fill-opacity="0.8"/>
<circle cx="744.0" cy="649.5" r="2.6" fill="#1b9e77" fill-opacity="0.8"/>
<circle cx="777.5" cy="641.8" r="2.6" fill="#1b9e77" fill-opacity="0.8"/>
<circle cx="811.0" cy="651.2" r="2.6" fill="#1b9e77" fill-opacity="0.8"/>
<circle cx="844.5" cy="656.5" r="2.6" fill="#1b9e77" fill-opacity="0.8"/>
<circle cx="878.0" cy="662.9" r="2.6" fill="#1b9e77" fill-opacity="0.8"/>
<circle cx="911.5" cy="667.2" r="2.6" fill="#1b9e77" fill-opacity="0.8"/>
<path d="M442.5,762.2 L476.0,752.5 L509.5,737.8 L543.0,618.7 L576.5,620.7 L610.0,622.1 L643.5,637.5 L677.0,638.8 L710.5,647.2 L744.0,635.1 L777.5,648.2 L811.0,681.6 L844.5,671.9 L878.0,678.9 L911.5,692.6 L945.0,684.6" fill="none" stroke="#7570b3" stroke-width="2" stroke-linejoin="round"/>
<circle cx="442.5" cy="762.2" r="2.6" fill="#7570b3" fill-opacity="0.8"/>
<circle cx="476.0" cy="752.5" r="2.6" fill="#7570b3" fill-opacity="0.8"/>
<circle cx="509.5" cy="737.8" r="2.6" fill="#7570b3" fill-opacity="0.8"/>
<circle cx="543.0" cy="618.7" r="2.6" fill="#7570b3" fill-opacity="0.8"/>
<circle cx="576.5" cy="620.7" r="2.6" fill="#7570b3" fill-opacity="0.8"/>
<circle cx="610.0" cy="622.1" r="2.6" fill="#7570b3" fill-opacity="0.8"/>
<circle cx="643.5" cy="637.5" r="2.6" fill="#7570b3" fill-opacity="0.8"/>
<circle cx="677.0" cy="638.8" r="2.6" fill="#7570b3" fill-opacity="0.8"/>
<circle cx="710.5" cy="647.2" r="2.6" fill="#7570b3" fill-opacity="0.8"/>
<circle cx="744.0" cy="635.1" r="2.6" fill="#7570b3" fill-opacity="0.8"/>
<circle cx="777.5" cy="648.2" r="2.6" fill="#7570b3" fill-opacity="0.8"/>
<circle cx="811.0" cy="681.6" r="2.6" fill="#7570b3" fill-opacity="0.8"/>
<circle cx="844.5" cy="671.9" r="2.6" fill="#7570b3" fill-opacity="0.8"/>
<circle cx="878.0" cy="678.9" r="2.6" fill="#7570b3" fill-opacity="0.8"/>
<circle cx="911.5" cy="692.6" r="2.6" fill="#7570b3" fill-opacity="0.8"/>
<circle cx="945.0" cy="684.6" r="2.6" fill="#7570b3" fill-opacity="0.8"/>
<path d="M442.5,710.7 L476.0,703.0 L509.5,695.6 L543.0,691.0 L576.5,702.7 L610.0,686.6 L643.5,694.6 L677.0,693.3 L710.5,689.6 L744.0,672.6 L777.5,678.3 L811.0,693.0 L844.5,694.0 L878.0,692.6 L911.5,686.0 L945.0,684.6" fill="none" stroke="#d95f02" stroke-width="2" stroke-linejoin="round"/>
<circle cx="442.5" cy="710.7" r="2.6" fill="#d95f02" fill-opacity="0.8"/>
<circle cx="476.0" cy="703.0" r="2.6" fill="#d95f02" fill-opacity="0.8"/>
<circle cx="509.5" cy="695.6" r="2.6" fill="#d95f02" fill-opacity="0.8"/>
<circle cx="543.0" cy="691.0" r="2.6" fill="#d95f02" fill-opacity="0.8"/>
<circle cx="576.5" cy="702.7" r="2.6" fill="#d95f02" fill-opacity="0.8"/>
<circle cx="610.0" cy="686.6" r="2.6" fill="#d95f02" fill-opacity="0.8"/>
<circle cx="643.5" cy="694.6" r="2.6" fill="#d95f02" fill-opacity="0.8"/>
<circle cx="677.0" cy="693.3" r="2.6" fill="#d95f02" fill-opacity="0.8"/>
<circle cx="710.5" cy="689.6" r="2.6" fill="#d95f02" fill-opacity="0.8"/>
<circle cx="744.0" cy="672.6" r="2.6" fill="#d95f02" fill-opacity="0.8"/>
<circle cx="777.5" cy="678.3" r="2.6" fill="#d95f02" fill-opacity="0.8"/>
<circle cx="811.0" cy="693.0" r="2.6" fill="#d95f02" fill-opacity="0.8"/>
<circle cx="844.5" cy="694.0" r="2.6" fill="#d95f02" fill-opacity="0.8"/>
<circle cx="878.0" cy="692.6" r="2.6" fill="#d95f02" fill-opacity="0.8"/>
<circle cx="911.5" cy="686.0" r="2.6" fill="#d95f02" fill-opacity="0.8"/>
<circle cx="945.0" cy="684.6" r="2.6" fill="#d95f02" fill-opacity="0.8"/>
<path d="M442.5,784.3 L476.0,782.6 L509.5,769.9 L543.0,769.2 L576.5,771.9 L610.0,781.9 L643.5,790.9 L677.0,796.0 L710.5,803.3 L744.0,796.3 L777.5,797.3 L811.0,794.6 L844.5,797.6 L878.0,797.6 L911.5,795.0 L945.0,786.9 L978.5,783.9" fill="none" stroke="#e7298a" stroke-width="2" stroke-linejoin="round"/>
<circle cx="442.5" cy="784.3" r="2.6" fill="#e7298a" fill-opacity="0.8"/>
<circle cx="476.0" cy="782.6" r="2.6" fill="#e7298a" fill-opacity="0.8"/>
<circle cx="509.5" cy="769.9" r="2.6" fill="#e7298a" fill-opacity="0.8"/>
<circle cx="543.0" cy="769.2" r="2.6" fill="#e7298a" fill-opacity="0.8"/>
<circle cx="576.5" cy="771.9" r="2.6" fill="#e7298a" fill-opacity="0.8"/>
<circle cx="610.0" cy="781.9" r="2.6" fill="#e7298a" fill-opacity="0.8"/>
<circle cx="643.5" cy="790.9" r="2.6" fill="#e7298a" fill-opacity="0.8"/>
<circle cx="677.0" cy="796.0" r="2.6" fill="#e7298a" fill-opacity="0.8"/>
<circle cx="710.5" cy="803.3" r="2.6" fill="#e7298a" fill-opacity="0.8"/>
<circle cx="744.0" cy="796.3" r="2.6" fill="#e7298a" fill-opacity="0.8"/>
<circle cx="777.5" cy="797.3" r="2.6" fill="#e7298a" fill-opacity="0.8"/>
<circle cx="811.0" cy="794.6" r="2.6" fill="#e7298a" fill-opacity="0.8"/>
<circle cx="844.5" cy="797.6" r="2.6" fill="#e7298a" fill-opacity="0.8"/>
<circle cx="878.0" cy="797.6" r="2.6" fill="#e7298a" fill-opacity="0.8"/>
<circle cx="911.5" cy="795.0" r="2.6" fill="#e7298a" fill-opacity="0.8"/>
<circle cx="945.0" cy="786.9" r="2.6" fill="#e7298a" fill-opacity="0.8"/>
<circle cx="978.5" cy="783.9" r="2.6" fill="#e7298a" fill-opacity="0.8"/>
<path d="M509.5,660.5 L543.0,649.5 L576.5,657.5 L610.0,668.9 L643.5,675.6 L677.0,689.3 L710.5,688.3 L744.0,681.9 L777.5,689.3 L811.0,696.3 L844.5,711.7 L878.0,711.0 L911.5,716.4 L945.0,717.7" fill="none" stroke="#66a61e" stroke-width="2" stroke-linejoin="round"/>
<circle cx="509.5" cy="660.5" r="2.6" fill="#66a61e" fill-opacity="0.8"/>
<circle cx="543.0" cy="649.5" r="2.6" fill="#66a61e" fill-opacity="0.8"/>
<circle cx="576.5" cy="657.5" r="2.6" fill="#66a61e" fill-opacity="0.8"/>
<circle cx="610.0" cy="668.9" r="2.6" fill="#66a61e" fill-opacity="0.8"/>
<circle cx="643.5" cy="675.6" r="2.6" fill="#66a61e" fill-opacity="0.8"/>
<circle cx="677.0" cy="689.3" r="2.6" fill="#66a61e" fill-opacity="0.8"/>
<circle cx="710.5" cy="688.3" r="2.6" fill="#66a61e" fill-opacity="0.8"/>
<circle cx="744.0" cy="681.9" r="2.6" fill="#66a61e" fill-opacity="0.8"/>
<circle cx="777.5" cy="689.3" r="2.6" fill="#66a61e" fill-opacity="0.8"/>
<circle cx="811.0" cy="696.3" r="2.6" fill="#66a61e" fill-opacity="0.8"/>
<circle cx="844.5" cy="711.7" r="2.6" fill="#66a61e" fill-opacity="0.8"/>
<circle cx="878.0" cy="711.0" r="2.6" fill="#66a61e" fill-opacity="0.8"/>
<circle cx="911.5" cy="716.4" r="2.6" fill="#66a61e" fill-opacity="0.8"/>
<circle cx="945.0" cy="717.7" r="2.6" fill="#66a61e" fill-opacity="0.8"/>
<circle cx="945.0" cy="723.1" r="2.6" fill="#e6ab02" fill-opacity="0.8"/>
<path d="M442.5,760.5 L476.0,732.1 L509.5,735.4 L543.0,709.4 L576.5,709.4 L610.0,703.7 L643.5,690.0 L677.0,692.6 L710.5,691.3 L744.0,676.6 L777.5,671.6 L811.0,673.6 L844.5,675.9 L878.0,680.6 L911.5,680.9 L945.0,686.3 L978.5,690.3" fill="none" stroke="#a6761d" stroke-width="2" stroke-linejoin="round"/>
<circle cx="442.5" cy="760.5" r="2.6" fill="#a6761d" fill-opacity="0.8"/>
<circle cx="476.0" cy="732.1" r="2.6" fill="#a6761d" fill-opacity="0.8"/>
<circle cx="509.5" cy="735.4" r="2.6" fill="#a6761d" fill-opacity="0.8"/>
<circle cx="543.0" cy="709.4" r="2.6" fill="#a6761d" fill-opacity="0.8"/>
<circle cx="576.5" cy="709.4" r="2.6" fill="#a6761d" fill-opacity="0.8"/>
<circle cx="610.0" cy="703.7" r="2.6" fill="#a6761d" fill-opacity="0.8"/>
<circle cx="643.5" cy="690.0" r="2.6" fill="#a6761d" fill-opacity="0.8"/>
<circle cx="677.0" cy="692.6" r="2.6" fill="#a6761d" fill-opacity="0.8"/>
<circle cx="710.5" cy="691.3" r="2.6" fill="#a6761d" fill-opacity="0.8"/>
<circle cx="744.0" cy="676.6" r="2.6" fill="#a6761d" fill-opacity="0.8"/>
<circle cx="777.5" cy="671.6" r="2.6" fill="#a6761d" fill-opacity="0.8"/>
<circle cx="811.0" cy="673.6" r="2.6" fill="#a6761d" fill-opacity="0.8"/>
<circle cx="844.5" cy="675.9" r="2.6" fill="#a6761d" fill-opacity="0.8"/>
<circle cx="878.0" cy="680.6" r="2.6" fill="#a6761d" fill-opacity="0.8"/>
<circle cx="911.5" cy="680.9" r="2.6" fill="#a6761d" fill-opacity="0.8"/>
<circle cx="945.0" cy="686.3" r="2.6" fill="#a6761d" fill-opacity="0.8"/>
<circle cx="978.5" cy="690.3" r="2.6" fill="#a6761d" fill-opacity="0.8"/>
<path d="M442.5,706.0 L476.0,691.3 L509.5,673.9 L543.0,662.2 L576.5,657.5 L610.0,658.2 L643.5,651.8 L677.0,649.5 L710.5,647.8 L744.0,633.5 L777.5,640.5 L811.0,642.8 L844.5,650.8 L878.0,652.8 L911.5,637.8 L945.0,627.1" fill="none" stroke="#666666" stroke-width="2" stroke-linejoin="round"/>
<circle cx="442.5" cy="706.0" r="2.6" fill="#666666" fill-opacity="0.8"/>
<circle cx="476.0" cy="691.3" r="2.6" fill="#666666" fill-opacity="0.8"/>
<circle cx="509.5" cy="673.9" r="2.6" fill="#666666" fill-opacity="0.8"/>
<circle cx="543.0" cy="662.2" r="2.6" fill="#666666" fill-opacity="0.8"/>
<circle cx="576.5" cy="657.5" r="2.6" fill="#666666" fill-opacity="0.8"/>
<circle cx="610.0" cy="658.2" r="2.6" fill="#666666" fill-opacity="0.8"/>
<circle cx="643.5" cy="651.8" r="2.6" fill="#666666" fill-opacity="0.8"/>
<circle cx="677.0" cy="649.5" r="2.6" fill="#666666" fill-opacity="0.8"/>
<circle cx="710.5" cy="647.8" r="2.6" fill="#666666" fill-opacity="0.8"/>
<circle cx="744.0" cy="633.5" r="2.6" fill="#666666" fill-opacity="0.8"/>
<circle cx="777.5" cy="640.5" r="2.6" fill="#666666" fill-opacity="0.8"/>
<circle cx="811.0" cy="642.8" r="2.6" fill="#666666" fill-opacity="0.8"/>
<circle cx="844.5" cy="650.8" r="2.6" fill="#666666" fill-opacity="0.8"/>
<circle cx="878.0" cy="652.8" r="2.6" fill="#666666" fill-opacity="0.8"/>
<circle cx="911.5" cy="637.8" r="2.6" fill="#666666" fill-opacity="0.8"/>
<circle cx="945.0" cy="627.1" r="2.6" fill="#666666" fill-opacity="0.8"/>
<circle cx="1001.6" cy="616.0" r="4.4" fill="#1b9e77" fill-opacity="0.8" stroke="#1b9e77" stroke-opacity="0.8" stroke-width="1.3"/>
<text x="1010.7" y="619.3" font-size="8.9" fill="#000">Canada</text>
<circle cx="1001.6" cy="630.4" r="4.4" fill="#d95f02" fill-opacity="0.8" stroke="#d95f02" stroke-opacity="0.8" stroke-width="1.3"/>
<text x="1010.7" y="633.7" font-size="8.9" fill="#000">Germany</text>
<circle cx="1001.6" cy="644.8" r="4.4" fill="#7570b3" fill-opacity="0.8" stroke="#7570b3" stroke-opacity="0.8" stroke-width="1.3"/>
<text x="1010.7" y="648.1" font-size="8.9" fill="#000">Mexico</text>
<circle cx="1001.6" cy="659.2" r="4.4" fill="#e7298a" fill-opacity="0.8" stroke="#e7298a" stroke-opacity="0.8" stroke-width="1.3"/>
<text x="1010.7" y="662.5" font-size="8.9" fill="#000">Norway</text>
<circle cx="1001.6" cy="673.6" r="4.4" fill="#66a61e" fill-opacity="0.8" stroke="#66a61e" stroke-opacity="0.8" stroke-width="1.3"/>
<text x="1010.7" y="676.9" font-size="8.9" fill="#000">Poland</text>
<circle cx="1001.6" cy="688.0" r="4.4" fill="#e6ab02" fill-opacity="0.8" stroke="#e6ab02" stroke-opacity="0.8" stroke-width="1.3"/>
<text x="1010.7" y="691.3" font-size="8.9" fill="#000">Russia</text>
<circle cx="1001.6" cy="702.4" r="4.4" fill="#a6761d" fill-opacity="0.8" stroke="#a6761d" stroke-opacity="0.8" stroke-width="1.3"/>
<text x="1010.7" y="705.7" font-size="8.9" fill="#000">South Korea</text>
<circle cx="1001.6" cy="716.8" r="4.4" fill="#666666" fill-opacity="0.8" stroke="#666666" stroke-opacity="0.8" stroke-width="1.3"/>
<text x="1010.7" y="720.1" font-size="8.9" fill="#000">United States of America</text></svg>
</div>
<div class="card" style="left:1152px;top:550px;width:741px;height:385px">
  <div class="hd">Average Pharma Spend as a % of GDP by Country</div>
  <svg id="bar" class="abs" style="left:0;top:36px" width="739" height="347" viewBox="1153 587 739 347"><line x1="1277.9" x2="1277.9" y1="607" y2="880.6" stroke="#ddd" stroke-width="1"/>
<line x1="1307.6" x2="1307.6" y1="607" y2="880.6" stroke="#ddd" stroke-width="1"/>
<line x1="1337.4" x2="1337.4" y1="607" y2="880.6" stroke="#ddd" stroke-width="1"/>
<line x1="1367.1" x2="1367.1" y1="607" y2="880.6" stroke="#ddd" stroke-width="1"/>
<line x1="1396.8" x2="1396.8" y1="607" y2="880.6" stroke="#ddd" stroke-width="1"/>
<line x1="1426.5" x2="1426.5" y1="607" y2="880.6" stroke="#ddd" stroke-width="1"/>
<line x1="1456.2" x2="1456.2" y1="607" y2="880.6" stroke="#ddd" stroke-width="1"/>
<line x1="1486.0" x2="1486.0" y1="607" y2="880.6" stroke="#ddd" stroke-width="1"/>
<line x1="1515.7" x2="1515.7" y1="607" y2="880.6" stroke="#ddd" stroke-width="1"/>
<line x1="1545.4" x2="1545.4" y1="607" y2="880.6" stroke="#ddd" stroke-width="1"/>
<line x1="1575.2" x2="1575.2" y1="607" y2="880.6" stroke="#ddd" stroke-width="1"/>
<line x1="1604.9" x2="1604.9" y1="607" y2="880.6" stroke="#ddd" stroke-width="1"/>
<line x1="1634.6" x2="1634.6" y1="607" y2="880.6" stroke="#ddd" stroke-width="1"/>
<line x1="1664.3" x2="1664.3" y1="607" y2="880.6" stroke="#ddd" stroke-width="1"/>
<line x1="1694.1" x2="1694.1" y1="607" y2="880.6" stroke="#ddd" stroke-width="1"/>
<line x1="1723.8" x2="1723.8" y1="607" y2="880.6" stroke="#ddd" stroke-width="1"/>
<line x1="1753.5" x2="1753.5" y1="607" y2="880.6" stroke="#ddd" stroke-width="1"/>
<line x1="1783.2" x2="1783.2" y1="607" y2="880.6" stroke="#ddd" stroke-width="1"/>
<line x1="1813.0" x2="1813.0" y1="607" y2="880.6" stroke="#ddd" stroke-width="1"/>
<line x1="1842.7" x2="1842.7" y1="607" y2="880.6" stroke="#ddd" stroke-width="1"/>
<line x1="1872.4" x2="1872.4" y1="607" y2="880.6" stroke="#ddd" stroke-width="1"/>
<rect x="1277.9" y="608.7" width="224.0" height="30.8" fill="#007070"/>
<line x1="1272.9" x2="1277.9" y1="624.1" y2="624.1" stroke="#888" stroke-width="1"/>
<text x="1270.9" y="627.4" font-size="8.9" text-anchor="end" fill="#000">Norway</text>
<rect x="1277.9" y="642.9" width="381.8" height="30.8" fill="#007070"/>
<line x1="1272.9" x2="1277.9" y1="658.3" y2="658.3" stroke="#888" stroke-width="1"/>
<text x="1270.9" y="661.6" font-size="8.9" text-anchor="end" fill="#000">Russia</text>
<rect x="1277.9" y="677.1" width="442.8" height="30.8" fill="#007070"/>
<line x1="1272.9" x2="1277.9" y1="692.5" y2="692.5" stroke="#888" stroke-width="1"/>
<text x="1270.9" y="695.8" font-size="8.9" text-anchor="end" fill="#000">South Korea</text>
<rect x="1277.9" y="711.3" width="457.4" height="30.8" fill="#007070"/>
<line x1="1272.9" x2="1277.9" y1="726.7" y2="726.7" stroke="#888" stroke-width="1"/>
<text x="1270.9" y="730.0" font-size="8.9" text-anchor="end" fill="#000">Germany</text>
<rect x="1277.9" y="745.5" width="469.6" height="30.8" fill="#007070"/>
<line x1="1272.9" x2="1277.9" y1="760.9" y2="760.9" stroke="#888" stroke-width="1"/>
<text x="1270.9" y="764.2" font-size="8.9" text-anchor="end" fill="#000">Poland</text>
<rect x="1277.9" y="779.7" width="502.2" height="30.8" fill="#007070"/>
<line x1="1272.9" x2="1277.9" y1="795.1" y2="795.1" stroke="#888" stroke-width="1"/>
<text x="1270.9" y="798.4" font-size="8.9" text-anchor="end" fill="#000">Canada</text>
<rect x="1277.9" y="813.9" width="508.4" height="30.8" fill="#007070"/>
<line x1="1272.9" x2="1277.9" y1="829.3" y2="829.3" stroke="#888" stroke-width="1"/>
<text x="1270.9" y="832.6" font-size="8.9" text-anchor="end" fill="#000">Mexico</text>
<rect x="1277.9" y="848.1" width="545.6" height="30.8" fill="#007070"/>
<line x1="1272.9" x2="1277.9" y1="863.5" y2="863.5" stroke="#888" stroke-width="1"/>
<text x="1270.9" y="866.8" font-size="8.9" text-anchor="end" fill="#000">United States of America</text>
<line x1="1277.9" x2="1277.9" y1="607" y2="880.6" stroke="#888" stroke-width="1"/>
<line x1="1277.9" x2="1872.4" y1="880.6" y2="880.6" stroke="#888" stroke-width="1"/>
<line x1="1277.9" x2="1277.9" y1="880.6" y2="885.6" stroke="#888" stroke-width="1"/>
<text x="1278.4" y="895.6" font-size="8.9" text-anchor="start" fill="#000">0.0</text>
<line x1="1307.6" x2="1307.6" y1="880.6" y2="885.6" stroke="#888" stroke-width="1"/>
<text x="1307.6" y="895.6" font-size="8.9" text-anchor="middle" fill="#000">0.1</text>
<line x1="1337.4" x2="1337.4" y1="880.6" y2="885.6" stroke="#888" stroke-width="1"/>
<text x="1337.4" y="895.6" font-size="8.9" text-anchor="middle" fill="#000">0.2</text>
<line x1="1367.1" x2="1367.1" y1="880.6" y2="885.6" stroke="#888" stroke-width="1"/>
<text x="1367.1" y="895.6" font-size="8.9" text-anchor="middle" fill="#000">0.3</text>
<line x1="1396.8" x2="1396.8" y1="880.6" y2="885.6" stroke="#888" stroke-width="1"/>
<text x="1396.8" y="895.6" font-size="8.9" text-anchor="middle" fill="#000">0.4</text>
<line x1="1426.5" x2="1426.5" y1="880.6" y2="885.6" stroke="#888" stroke-width="1"/>
<text x="1426.5" y="895.6" font-size="8.9" text-anchor="middle" fill="#000">0.5</text>
<line x1="1456.2" x2="1456.2" y1="880.6" y2="885.6" stroke="#888" stroke-width="1"/>
<text x="1456.2" y="895.6" font-size="8.9" text-anchor="middle" fill="#000">0.6</text>
<line x1="1486.0" x2="1486.0" y1="880.6" y2="885.6" stroke="#888" stroke-width="1"/>
<text x="1486.0" y="895.6" font-size="8.9" text-anchor="middle" fill="#000">0.7</text>
<line x1="1515.7" x2="1515.7" y1="880.6" y2="885.6" stroke="#888" stroke-width="1"/>
<text x="1515.7" y="895.6" font-size="8.9" text-anchor="middle" fill="#000">0.8</text>
<line x1="1545.4" x2="1545.4" y1="880.6" y2="885.6" stroke="#888" stroke-width="1"/>
<text x="1545.4" y="895.6" font-size="8.9" text-anchor="middle" fill="#000">0.9</text>
<line x1="1575.2" x2="1575.2" y1="880.6" y2="885.6" stroke="#888" stroke-width="1"/>
<text x="1575.2" y="895.6" font-size="8.9" text-anchor="middle" fill="#000">1.0</text>
<line x1="1604.9" x2="1604.9" y1="880.6" y2="885.6" stroke="#888" stroke-width="1"/>
<text x="1604.9" y="895.6" font-size="8.9" text-anchor="middle" fill="#000">1.1</text>
<line x1="1634.6" x2="1634.6" y1="880.6" y2="885.6" stroke="#888" stroke-width="1"/>
<text x="1634.6" y="895.6" font-size="8.9" text-anchor="middle" fill="#000">1.2</text>
<line x1="1664.3" x2="1664.3" y1="880.6" y2="885.6" stroke="#888" stroke-width="1"/>
<text x="1664.3" y="895.6" font-size="8.9" text-anchor="middle" fill="#000">1.3</text>
<line x1="1694.1" x2="1694.1" y1="880.6" y2="885.6" stroke="#888" stroke-width="1"/>
<text x="1694.1" y="895.6" font-size="8.9" text-anchor="middle" fill="#000">1.4</text>
<line x1="1723.8" x2="1723.8" y1="880.6" y2="885.6" stroke="#888" stroke-width="1"/>
<text x="1723.8" y="895.6" font-size="8.9" text-anchor="middle" fill="#000">1.5</text>
<line x1="1753.5" x2="1753.5" y1="880.6" y2="885.6" stroke="#888" stroke-width="1"/>
<text x="1753.5" y="895.6" font-size="8.9" text-anchor="middle" fill="#000">1.6</text>
<line x1="1783.2" x2="1783.2" y1="880.6" y2="885.6" stroke="#888" stroke-width="1"/>
<text x="1783.2" y="895.6" font-size="8.9" text-anchor="middle" fill="#000">1.7</text>
<line x1="1813.0" x2="1813.0" y1="880.6" y2="885.6" stroke="#888" stroke-width="1"/>
<text x="1813.0" y="895.6" font-size="8.9" text-anchor="middle" fill="#000">1.8</text>
<line x1="1842.7" x2="1842.7" y1="880.6" y2="885.6" stroke="#888" stroke-width="1"/>
<text x="1842.7" y="895.6" font-size="8.9" text-anchor="middle" fill="#000">1.9</text>
<line x1="1872.4" x2="1872.4" y1="880.6" y2="885.6" stroke="#888" stroke-width="1"/>
<text x="1872.4" y="895.6" font-size="8.9" text-anchor="end" fill="#000">2.0</text>
<text x="1575.2" y="908" font-size="9.6" font-weight="bold" text-anchor="middle" fill="#000">% of GDP</text></svg>
</div>
</body>
</html>
